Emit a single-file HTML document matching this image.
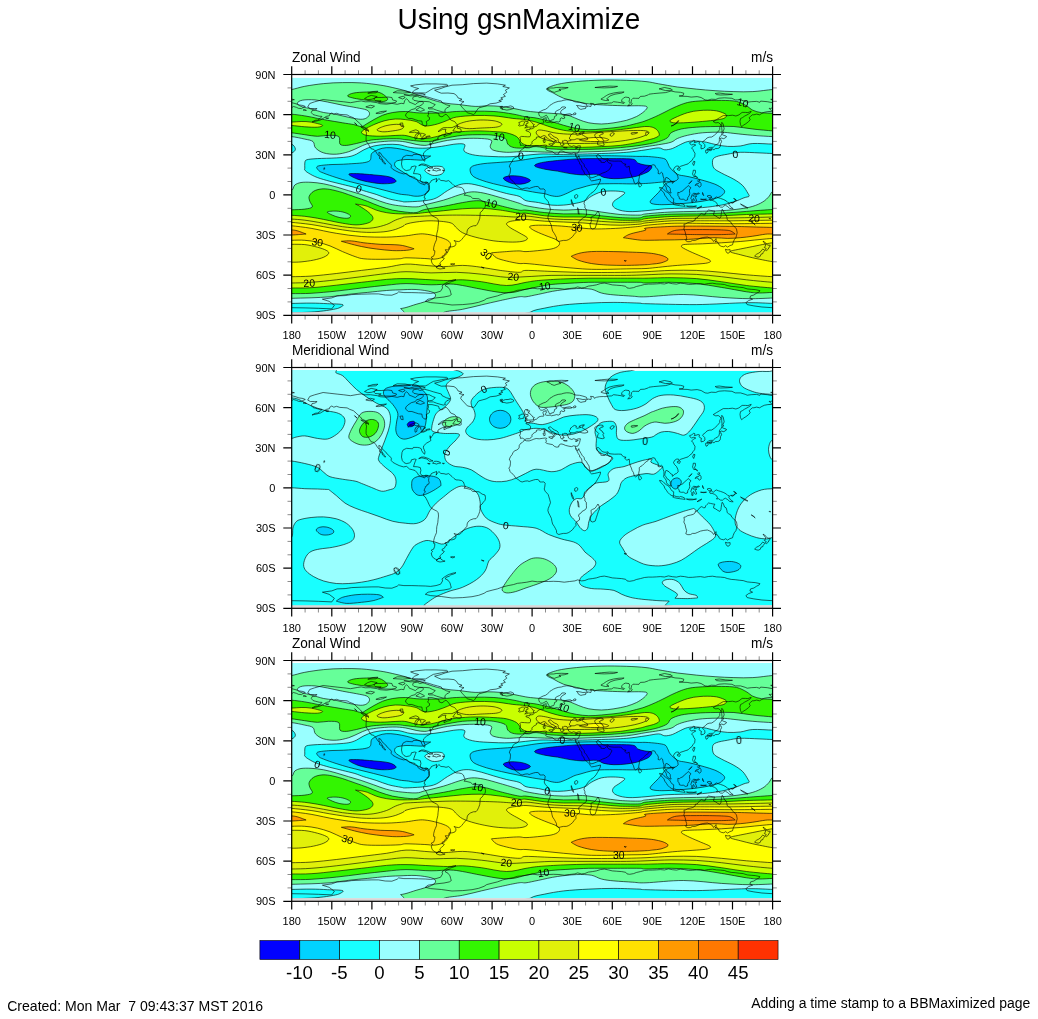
<!DOCTYPE html>
<html><head><meta charset="utf-8"><title>Using gsnMaximize</title>
<style>html,body{margin:0;padding:0;background:#fff}svg{display:block}text{font-family:"Liberation Sans",sans-serif;fill:#000}.t{font-size:11px;text-anchor:middle}.tl{font-size:11px;text-anchor:end}.s{font-size:13.6px}.cl{font-size:10.4px;text-anchor:middle}.cb{font-size:18.6px;text-anchor:middle}.c path{stroke:#000;stroke-width:.62}.k{fill:none;stroke:#000;stroke-width:.6;stroke-linejoin:round}</style></head><body>
<svg width="1038" height="1019" viewBox="0 0 1038 1019">
<rect width="1038" height="1019" fill="#fff"/><g opacity=".999">
<text style="font-size:28px;text-anchor:middle" transform="translate(518.9,28.7) scale(1,1.06)">Using gsnMaximize</text>
<defs>
<clipPath id="cp"><rect x="291.7" y="77.9" width="480.9" height="234.5"/></clipPath>
<g id="p1" class="c">
<rect x="291.7" y="77.9" width="480.9" height="234.7" fill="#99ffff"/>
<path fill="#66ff99" d="M283 89.5 C284.4 81.6 288 90 291.7 89.5 C295.3 88.9 299.5 87.3 304.8 86.3 C310.2 85.3 317.4 84.2 323.7 83.6 C330 82.9 336.3 82.7 342.5 82.6 C348.8 82.5 355.1 82.5 361.4 82.9 C367.7 83.4 375 84.3 380.2 85.1 C385.5 85.9 388.6 86.6 392.8 87.6 C397 88.5 401.1 89.5 405.3 90.7 C409.6 92 414.3 93.7 418.6 95.1 C422.9 96.6 426.9 98.2 431.1 99.5 C435.3 100.8 439.1 102.1 443.7 102.9 C448.3 103.8 453.5 104 458.8 104.5 C464 105.1 470.3 106.2 475.1 106.4 C479.9 106.6 483.5 105.8 487.7 105.8 C491.8 105.8 496 106 500.2 106.4 C504.4 106.9 508.6 107.6 512.8 108.3 C517 109 521.5 110.2 525.3 110.8 C529.2 111.5 531.8 111.7 536.1 112.1 C540.3 112.5 546.9 113 551.1 113.3 C555.3 113.7 558 113.6 561.2 114 C564.3 114.4 567 114.9 570 115.9 C572.9 116.8 575.6 118.5 578.8 119.6 C581.9 120.8 585 122 588.8 122.8 C592.6 123.5 597.2 124 601.4 124 C605.6 124 609.8 123.4 613.9 122.8 C618.1 122.1 622.7 121.3 626.5 120.3 C630.3 119.2 633.6 117.9 636.6 116.5 C639.5 115 642.3 113 644.1 111.5 C645.9 109.9 647.6 108 647.2 107.1 C646.8 106.1 645 106 641.6 105.8 C638.1 105.6 632.2 105.9 626.5 105.8 C620.8 105.7 613.9 105.5 607.7 105.2 C601.4 104.9 594 104.5 588.8 103.9 C583.6 103.3 580.4 102.3 576.3 101.4 C572.1 100.5 567.5 99.6 563.7 98.3 C559.9 96.9 556.5 94.8 553.6 93.2 C550.8 91.7 546.1 90.3 546.7 88.8 C547.4 87.4 552.5 85.7 557.4 84.4 C562.3 83.2 568.9 82.3 576.3 81.6 C583.6 80.8 593 80.3 601.4 80.1 C609.8 79.8 619.1 80.1 626.5 80.3 C633.9 80.6 640.6 81 646 81.6 C651.3 82.1 653.3 82.9 658.6 83.8 C663.8 84.7 671.1 86.1 677.4 87 C683.7 87.8 690 88.5 696.3 89.1 C702.5 89.7 708.8 90.3 715.1 90.7 C721.4 91.1 727.7 91.5 733.9 91.6 C740.2 91.8 746.3 92 752.8 91.6 C759.2 91.3 767.9 89.8 772.6 89.5 C777.3 89.1 779.6 81.6 781 89.5 C782.4 97.4 782.4 128.8 781 136.6 C779.6 144.4 777.3 136.8 772.6 136.6 C767.9 136.4 759.2 135.9 752.8 135.3 C746.3 134.8 739.2 134 733.9 133.4 C728.7 132.9 726.6 132.3 721.4 132.2 C716.1 132.1 708.2 132.3 702.5 132.8 C696.9 133.3 691.6 134.4 687.5 135.3 C683.3 136.3 680.1 137.3 677.4 138.5 C674.7 139.6 674.3 141.2 671.1 142.2 C668 143.3 662.8 144 658.6 144.7 C654.4 145.5 651.3 145.8 646 146.6 C640.6 147.5 633.9 149 626.5 149.8 C619.1 150.6 609.8 151 601.4 151.4 C593 151.8 584.6 152.1 576.3 152.3 C567.9 152.4 559.5 152.4 551.1 152.3 C542.8 152.1 531.3 151.5 526 151.4 C520.7 151.3 522.3 151.5 519.1 151.7 C515.8 151.8 510.7 152.5 506.5 152.3 C502.3 152.1 496.7 151.3 493.9 150.4 C491.2 149.5 490.6 148.3 490.2 146.6 C489.8 145 492.9 141.7 491.4 140.4 C490 139 485.8 138.8 481.4 138.5 C477 138.2 470.7 138.2 465 138.5 C459.4 138.8 453.1 139.4 447.5 140.4 C441.8 141.3 434.9 143.3 431.1 144.1 C427.4 145 427.4 145.3 424.8 145.4 C422.3 145.4 419.3 145 416.1 144.4 C412.8 143.8 409.2 142.4 405.3 141.9 C401.5 141.3 397.6 140.9 392.8 141 C388 141 380.8 141.7 376.5 142.2 C372.1 142.8 369.3 143.3 366.4 144.1 C363.5 145 361.8 146 358.9 147.3 C355.9 148.5 352.6 150.5 348.8 151.7 C345 152.8 340.4 154 336.3 154.2 C332.1 154.4 327.1 154 323.7 152.9 C320.2 151.9 317.3 149.8 315.5 147.9 C313.7 146 314.8 143.1 313 141.6 C311.2 140.1 308.4 139.9 304.8 139.1 C301.3 138.3 295.3 137 291.7 136.6 C288 136.2 284.4 144.4 283 136.6 C281.6 128.8 281.6 97.4 283 89.5 Z"/>
<path fill="#99ffff" d="M297.3 103.3 C297.5 102.2 299.4 100.7 302.3 100.2 C305.3 99.6 310.7 99.6 314.9 99.9 C319.1 100.2 322.9 101.2 327.5 102 C332.1 102.9 337.7 104.2 342.5 105.2 C347.3 106.1 352.4 106.9 356.4 107.7 C360.3 108.5 364.2 109 366.4 109.9 C368.6 110.9 369.3 112.1 369.5 113.3 C369.8 114.5 368.8 116.1 367.7 117.1 C366.5 118.1 364.9 119 362.6 119.2 C360.3 119.5 357.2 118.9 353.8 118.4 C350.5 117.8 345.9 116.6 342.5 115.9 C339.2 115.1 336.9 114.5 333.7 114 C330.6 113.4 326.4 113 323.7 112.5 C321 111.9 319.9 111.5 317.4 110.8 C314.9 110.1 311.3 109 308.6 108.3 C305.9 107.6 303 107.3 301.1 106.4 C299.2 105.6 297.1 104.3 297.3 103.3 Z"/>
<path fill="#33f500" d="M283 114 C284.4 111 288 113.9 291.7 114.2 C295.3 114.5 300.6 115.2 304.8 115.9 C309.1 116.5 313.6 117.6 317.4 118.4 C321.2 119.1 323.3 119.5 327.5 120.3 C331.6 121 338.1 122 342.5 122.8 C346.9 123.5 350.7 124 353.8 124.6 C357 125.3 359.3 126.6 361.4 126.5 C363.5 126.4 364.3 125.2 366.4 124 C368.5 122.9 371.2 121.1 373.9 119.6 C376.7 118.2 379.6 116.4 382.7 115.2 C385.9 114 389 113.1 392.8 112.5 C396.6 111.8 401.5 111.4 405.3 111.5 C409.2 111.5 411.8 112.4 416.1 112.7 C420.3 113 426.5 113.1 431.1 113.1 C435.7 113.1 439.5 113 443.7 112.7 C447.9 112.4 451 111.7 456.3 111.5 C461.5 111.2 468.8 111.2 475.1 111.2 C481.4 111.2 487.7 111 493.9 111.5 C500.2 111.9 507.5 113.1 512.8 114 C518 114.8 521.5 116.1 525.3 116.7 C529.2 117.4 531.8 117.2 536.1 118 C540.3 118.8 546.5 120.3 551.1 121.5 C555.7 122.7 559.5 124.1 563.7 125.3 C567.9 126.4 572.1 127.7 576.3 128.4 C580.4 129.1 584.6 129.6 588.8 129.7 C593 129.8 597.2 129.4 601.4 129 C605.6 128.7 609.8 128.3 613.9 127.8 C618.1 127.3 622.3 126.7 626.5 125.9 C630.7 125.1 635.8 123.6 639.1 122.8 C642.3 121.9 642.7 121.9 646 120.6 C649.2 119.4 654.4 117.2 658.6 115.2 C662.8 113.3 667.4 110.7 671.1 108.9 C674.9 107.2 678 105.7 681.2 104.5 C684.3 103.4 686.4 102.7 690 102 C693.5 101.4 697.3 101.1 702.5 100.8 C707.8 100.5 715.7 100.3 721.4 100.4 C727 100.5 732.3 100.5 736.5 101.4 C740.6 102.3 743.8 104.3 746.5 105.8 C749.2 107.3 750.3 109 752.8 110.2 C755.3 111.4 758.3 112.2 761.6 112.7 C764.9 113.2 769.4 113.1 772.6 113.3 C775.9 113.6 779.6 111 781 114 C782.4 117 782.4 128.7 781 131.5 C779.6 134.3 777.3 131.3 772.6 130.9 C767.9 130.5 759.2 129.8 752.8 129 C746.3 128.3 740.2 127 733.9 126.5 C727.7 126.1 721.4 126.4 715.1 126.5 C708.8 126.6 701.9 126.7 696.3 127.2 C690.6 127.6 685.4 128.1 681.2 129 C677 130 673.4 131.3 671.1 132.8 C668.8 134.3 669.5 136.4 667.4 137.8 C665.3 139.3 662.1 140.5 658.6 141.6 C655 142.7 651.3 143.5 646 144.4 C640.6 145.3 633.9 146.3 626.5 147 C619.1 147.8 609.8 148.5 601.4 148.9 C593 149.3 584.6 149.5 576.3 149.5 C567.9 149.5 557.8 149.4 551.1 148.9 C544.4 148.4 541 146.8 536.1 146.6 C531.1 146.5 525.5 148 521.6 148.1 C517.7 148.2 515.1 147.9 512.8 147.3 C510.5 146.6 509 145.6 507.8 144.1 C506.5 142.7 507.5 139.9 505.2 138.5 C502.9 137 497.9 136 493.9 135.3 C490 134.7 486.6 134.7 481.4 134.7 C476.1 134.7 468.8 134.7 462.5 135.3 C456.3 136 449.3 137.4 443.7 138.5 C438 139.5 434.9 141.4 428.6 141.6 C422.3 141.8 410.9 140.2 406 139.7 C401.1 139.3 402.3 139 399.1 138.8 C395.8 138.7 390.7 138.7 386.5 138.8 C382.3 139 377.3 139.4 373.9 139.7 C370.6 140.1 369.3 140.4 366.4 141 C363.5 141.6 359.7 142.8 356.4 143.5 C353 144.2 349 145.3 346.3 145.4 C343.6 145.5 341.3 145.6 340 144.1 C338.8 142.7 340.6 138 338.8 136.6 C336.9 135.1 332.3 135.4 328.7 135.3 C325.2 135.3 321.4 136.4 317.4 136.3 C313.4 136.2 309.1 135.3 304.8 134.7 C300.6 134.1 295.3 133.2 291.7 132.8 C288 132.4 284.4 135.6 283 132.5 C281.6 129.4 281.6 117 283 114 Z"/>
<path fill="#33f500" d="M347.6 95.8 C347.8 94.9 350.7 93.6 353.8 93 C357 92.4 362.2 92.1 366.4 92 C370.6 91.9 375.6 91.5 379 92.4 C382.3 93.2 385.1 95.7 386.5 97 C387.9 98.3 388 99.4 387.1 100.2 C386.3 100.9 384.1 101.6 381.5 101.7 C378.9 101.8 374.8 101.1 371.4 100.8 C368.1 100.4 364.5 100 361.4 99.5 C358.2 99 354.9 98.5 352.6 97.9 C350.3 97.3 347.3 96.6 347.6 95.8 Z"/>
<path fill="#c8ff00" d="M283 122 C284.4 121.4 288.6 122.2 291.7 122.1 C294.7 122.1 297.8 121.5 301.1 121.5 C304.3 121.5 307.6 121.5 311.1 122.1 C314.7 122.8 321.4 124.4 322.4 125.3 C323.5 126.1 320.3 126.9 317.4 127.2 C314.5 127.4 309.1 127.1 304.8 126.8 C300.6 126.5 295.3 125.7 291.7 125.5 C288 125.3 284.4 126.1 283 125.5 C281.6 124.9 281.6 122.6 283 122 Z"/>
<path fill="#c8ff00" d="M361.4 132.8 C361.4 132.8 361.8 131 363.9 129.7 C366 128.3 370.6 126.1 373.9 124.6 C377.3 123.2 380.4 121.8 384 120.9 C387.5 119.9 391.7 119.2 395.3 119 C398.9 118.8 401.9 119.2 405.3 119.6 C408.8 120 412.8 120.5 416.1 121.5 C419.3 122.6 421.3 125.5 424.8 125.9 C428.4 126.3 433.6 125 437.4 124 C441.2 123.1 444.3 121.4 447.5 120.3 C450.6 119.1 451.6 117.9 456.3 117.1 C460.9 116.3 468.8 115.7 475.1 115.5 C481.4 115.3 487.7 115.4 493.9 115.9 C500.2 116.3 507.5 117.7 512.8 118.4 C518 119 521.5 119 525.3 119.6 C529.2 120.3 531.8 120.9 536.1 122.1 C540.3 123.4 546.5 125.8 551.1 127.2 C555.7 128.5 559.5 129.6 563.7 130.3 C567.9 131 571 131.3 576.3 131.6 C581.5 131.8 588.8 131.8 595.1 131.6 C601.4 131.3 608.7 130.8 613.9 130.3 C619.2 129.8 622.3 129.3 626.5 128.8 C630.7 128.3 635.8 127.5 639.1 127.2 C642.3 126.8 643.8 126.5 646 126.5 C648.2 126.5 650.4 126.5 652.3 127.2 C654.2 127.8 656.2 128.9 657.3 130.3 C658.5 131.7 659.8 134 659.2 135.3 C658.6 136.7 655.7 137.6 653.5 138.5 C651.3 139.3 648.4 139.7 646 140.4 C643.6 141 643.4 141.4 639.1 142.2 C634.8 143.1 626.5 144.6 620.2 145.4 C613.9 146.1 607.7 146.3 601.4 146.6 C595.1 146.9 588.8 147.2 582.5 147.3 C576.3 147.3 570 147.1 563.7 146.9 C557.4 146.7 551.1 146.3 544.8 146 C538.6 145.8 529 145.5 526 145.4 C523 145.3 527.3 145.8 526.6 145.4 C525.9 145 523.3 144.3 521.6 142.9 C519.9 141.4 519.1 138.3 516.6 136.6 C514 134.9 510.3 133.7 506.5 132.8 C502.7 132 499.2 131.9 493.9 131.6 C488.7 131.2 481.4 130.8 475.1 130.9 C468.8 131 461.5 131.6 456.3 132.2 C451 132.8 447.9 133.8 443.7 134.7 C439.5 135.6 435.3 137.2 431.1 137.8 C426.9 138.5 422.8 138.8 418.6 138.5 C414.4 138.1 409.2 136.1 406 135.6 C402.8 135.1 403.4 135.2 399.1 135.3 C394.8 135.4 385.7 136.2 380.2 136.2 C374.8 136.2 369.5 135.9 366.4 135.3 C363.3 134.8 361.4 132.8 361.4 132.8 Z"/>
<path fill="#c8ff00" d="M669.9 120.9 C670.1 120 672 119.1 674.9 117.7 C677.8 116.4 683.3 113.9 687.5 112.7 C691.6 111.5 695.6 110.8 700 110.5 C704.4 110.1 710.1 110.1 713.8 110.5 C717.6 110.8 720.5 111.9 722.6 112.7 C724.7 113.5 726.2 114.3 726.4 115.2 C726.6 116.2 726 117.5 723.9 118.4 C721.8 119.2 718 119.7 713.8 120.3 C709.7 120.8 703.8 121.3 698.8 121.8 C693.7 122.2 687.9 122.6 683.7 122.8 C679.5 122.9 675.9 123.1 673.6 122.8 C671.3 122.4 669.7 121.7 669.9 120.9 Z"/>
<path fill="#e1f00a" d="M377.1 129.7 C377.5 128.7 382 126.8 385.2 125.9 C388.5 125 393.5 124.3 396.6 124.3 C399.6 124.3 402.6 125.1 403.5 125.9 C404.3 126.7 403.4 128.2 401.6 129 C399.8 129.9 395.9 130.5 392.8 130.9 C389.6 131.4 385.4 132 382.7 131.8 C380.1 131.6 376.7 130.7 377.1 129.7 Z"/>
<path fill="#e1f00a" d="M457.1 125.4 C457.1 124.3 462.5 122.5 466.3 121.6 C470.2 120.7 475.6 120.2 480.2 120 C484.8 119.9 490.5 120.2 494.1 120.8 C497.7 121.5 501.3 122.9 501.8 123.9 C502.3 124.9 500.7 126.3 497.1 127 C493.6 127.7 485.3 127.8 480.2 128.1 C475.1 128.3 470.2 129 466.3 128.5 C462.5 128.1 457.1 126.6 457.1 125.4 Z"/>
<path fill="#e1f00a" d="M536.2 133.1 C535.8 131.9 537 130.4 538.5 130.1 C540.1 129.7 542.5 130.3 545.5 130.8 C548.4 131.3 551.9 132.6 556.2 133.1 C560.6 133.7 566.5 134.2 571.7 134.2 C576.8 134.2 580.6 133.6 587.1 133.1 C593.5 132.7 602.5 132 610.2 131.6 C617.9 131.2 627.4 130.6 633.3 130.5 C639.2 130.4 643.1 130.4 645.6 130.8 C648.2 131.3 649.5 132.1 648.7 133.1 C648 134.2 644.9 135.8 641 137 C637.2 138.2 632 139.4 625.6 140.4 C619.2 141.4 610.2 142.3 602.5 142.9 C594.8 143.4 585.8 143.4 579.4 143.5 C572.9 143.5 568.6 143.5 563.9 143.2 C559.3 142.8 555.5 142.2 551.6 141.3 C547.8 140.4 543.4 139.1 540.8 137.8 C538.3 136.4 536.6 134.4 536.2 133.1 Z"/>
<path fill="#ffff00" d="M579.4 139.8 C579.9 139.2 586.3 138.1 590.2 137.8 C594 137.4 599.4 137.4 602.5 137.8 C605.6 138.1 608.7 139.2 608.7 139.8 C608.7 140.4 606.1 141.1 602.5 141.3 C598.9 141.6 590.9 141.6 587.1 141.3 C583.2 141.1 578.9 140.4 579.4 139.8 Z"/>
<path fill="#e1f00a" d="M646 132.2 C646.4 131.9 648.5 132.9 648.5 133.4 C648.5 134 646.4 135.5 646 135.3 C645.6 135.1 645.6 132.5 646 132.2 Z"/>
<path fill="#18ffff" d="M304.8 163 C305.2 161.6 304.6 160.6 306.7 159.8 C308.8 159.1 312.5 158.9 317.4 158.6 C322.3 158.3 331 158.3 336.3 157.9 C341.5 157.6 345.5 157.3 348.8 156.7 C352.2 156.1 353.8 155.3 356.4 154.2 C358.9 153 361 151.1 363.9 149.8 C366.8 148.4 370.2 146.9 373.9 146 C377.7 145.1 382.3 144.6 386.5 144.4 C390.7 144.2 395 144.2 399.1 144.7 C403.1 145.3 406.2 146.9 410.8 147.5 C415.3 148.1 421.1 148.4 426.2 148.1 C431.4 147.9 436.5 147 441.7 146.3 C446.8 145.5 453.3 144.1 457.1 143.9 C461 143.6 463.6 143.6 464.8 144.7 C465.9 145.9 462.8 149.3 464 150.9 C465.3 152.6 468.5 153.8 472.5 154.7 C476.4 155.6 481.5 156 487.9 156.3 C494.3 156.6 502.4 157.1 511 156.7 C519.7 156.3 531.2 154.4 539.9 154 C548.7 153.7 553.4 154.5 563.7 154.4 C573.9 154.3 590.9 153.9 601.4 153.5 C611.8 153.2 619.1 152.9 626.5 152.3 C633.9 151.7 640.6 150.5 646 149.8 C651.3 149 655.4 147.9 658.6 147.9 C661.7 147.9 662.5 149.7 664.8 149.8 C667.1 149.9 670.1 149.3 672.4 148.5 C674.7 147.8 676.2 146.5 678.7 145.4 C681.2 144.2 684.5 142.3 687.5 141.6 C690.4 140.9 693.1 140.9 696.3 141 C699.4 141.1 703 141.6 706.3 142.2 C709.7 142.9 712.8 144.1 716.4 144.7 C719.9 145.4 723.7 146.2 727.7 146.4 C731.6 146.6 736 146.5 740.2 146 C744.4 145.5 747.4 143.8 752.8 143.5 C758.2 143.2 767.9 144 772.6 144.1 C777.3 144.2 779.6 142.6 781 144.2 C782.4 145.8 782.4 151.9 781 153.5 C779.6 155.1 776.3 153.6 772.6 153.5 C769 153.4 764.5 153.1 759.1 152.9 C753.7 152.7 745.5 152.1 740.2 152.3 C735 152.5 731.6 153.4 727.7 154.2 C723.7 154.9 718.9 155.6 716.4 156.7 C713.8 157.7 713 158.6 712.6 160.5 C712.2 162.3 712.4 165.9 713.8 168 C715.3 170.1 718 171.1 721.4 173 C724.7 174.9 730.4 177.2 733.9 179.3 C737.5 181.4 740.4 183.3 742.7 185.6 C745 187.9 746.7 191.3 747.8 193.1 C748.8 194.9 749.6 195.5 749 196.3 C748.4 197.1 746.5 196.8 744 197.8 C741.5 198.7 737.7 200.7 733.9 201.9 C730.2 203.1 726.6 204.1 721.4 205.1 C716.1 206 708.8 207.1 702.5 207.6 C696.3 208.1 690 208 683.7 208.2 C677.4 208.4 671.1 208.4 664.8 208.8 C658.6 209.3 652 210.3 646 210.7 C640 211.2 633.7 211.8 629 211.6 C624.3 211.4 620.4 210.5 617.7 209.5 C615 208.5 613.3 207.1 612.7 205.7 C612.1 204.3 612.7 202.8 613.9 201.3 C615.2 199.8 618.4 198.4 620.2 196.9 C622 195.4 625.7 193.5 624.6 192.5 C623.6 191.5 617.8 191.1 613.9 191 C610.1 190.9 605.1 191 601.4 191.9 C597.6 192.8 594 194.8 591.3 196.3 C588.6 197.7 587.6 199.5 585 200.7 C582.5 201.8 579.8 202.5 576.3 203.2 C572.7 203.9 567.9 204.8 563.7 205.1 C559.5 205.4 555.3 205.5 551.1 205.1 C546.9 204.7 542.8 203.3 538.6 202.6 C534.4 201.8 529.2 201.7 526 200.7 C522.8 199.6 522.3 197.5 519.1 196.3 C515.8 195.1 510.7 194.6 506.5 193.5 C502.3 192.5 498.1 191.2 493.9 190 C489.8 188.8 485.6 187.3 481.4 186.2 C477.2 185.2 472.6 183.9 468.8 183.7 C465 183.5 462.3 183.8 458.8 184.9 C455.2 186.1 451.2 188.4 447.5 190.6 C443.7 192.8 439.9 196.4 436.2 198 C432.4 199.7 429.9 200 424.8 200.7 C419.8 201.3 409.9 201.8 406 201.9 C402.1 202 404.1 201.8 401.2 201.3 C398.3 200.8 392.9 200 388.7 198.8 C384.5 197.7 380.3 195.8 376.2 194.4 C372 193.1 367.2 191.8 363.6 190.7 C360.1 189.5 358.4 188.6 354.9 187.5 C351.3 186.5 346.5 185.4 342.4 184.4 C338.2 183.4 334 182.4 329.8 181.3 C325.7 180.1 320.9 178.9 317.3 177.5 C313.8 176.2 310.6 174.4 308.5 173.1 C306.5 171.9 305.4 170.9 304.8 170 C304.2 169.1 304.8 169.2 304.8 168 C304.9 166.8 304.5 164.3 304.8 163 Z"/>
<path fill="#18ffff" d="M283 144.1 C284.4 142.6 289.6 143.3 291.7 144.1 C293.7 145 295.4 147.7 295.4 149.1 C295.4 150.6 293.7 152.3 291.7 152.9 C289.6 153.6 284.4 154.5 283 153 C281.6 151.5 281.6 145.6 283 144.1 Z"/>
<path fill="#99ffff" d="M424.8 170.5 C424.6 169.1 428.4 167.4 431.1 166.7 C433.8 166.1 439 166 441.2 166.5 C443.4 167 444.3 168.6 444.3 169.9 C444.3 171.2 443.2 173.4 441.2 174.3 C439.2 175.2 435.1 175.9 432.4 175.3 C429.7 174.6 425.1 171.9 424.8 170.5 Z"/>
<path fill="#00d2ff" d="M317.3 166.4 C318.9 165.5 323.4 165.1 328.6 164.7 C333.8 164.3 341.9 164.5 348.6 163.9 C355.3 163.4 364.7 163.3 368.7 161.4 C372.6 159.6 369.5 155 372.4 152.7 C375.3 150.4 380.6 148.1 386.2 147.7 C391.8 147.2 400.4 148.9 406.2 150.2 C412.1 151.4 417.2 154.2 421.3 155.2 C425.4 156.2 430.7 156 430.7 156 C430.7 156 427.3 158 426 158.6 C424.6 159.3 424.4 159.9 422.5 160.1 C420.6 160.3 417.4 159.9 414.7 159.8 C411.9 159.7 408.9 159.3 406 159.5 C403.1 159.7 399.2 160.2 397.3 160.8 C395.5 161.5 395 162.4 394.7 163.4 C394.5 164.4 394.5 165.6 395.6 166.9 C396.8 168.2 399.5 169.8 401.7 171.2 C403.9 172.7 406.2 174.2 408.6 175.6 C411.1 176.9 414 178.4 416.4 179.5 C418.9 180.5 421.6 181.6 423.4 182.1 C425.2 182.6 426.3 181.8 427.3 182.5 C428.3 183.1 429.1 184.7 429.4 186 C429.7 187.2 429.6 188.6 429 189.9 C428.4 191.2 427.3 192.8 426 193.8 C424.6 194.8 422.6 195.5 420.8 195.9 C418.9 196.3 416.7 196.3 414.7 196.2 C412.7 196.1 411.3 195.5 408.6 195.1 C406 194.7 402.5 194.7 398.7 193.9 C395 193.2 390.4 191.7 386.2 190.7 C382 189.6 377.8 188.6 373.7 187.5 C369.5 186.5 365.3 185.4 361.1 184.4 C357 183.4 352.8 182.4 348.6 181.3 C344.4 180.1 340.3 178.9 336.1 177.5 C331.9 176.2 326.5 174.3 323.6 173.1 C320.7 172 319.9 171.7 318.8 170.6 C317.8 169.5 315.7 167.4 317.3 166.4 Z"/>
<path fill="#00d2ff" d="M470.1 170.5 C469.9 168.7 470.3 167.3 472.6 166.1 C474.9 165 479.3 164.2 483.9 163.6 C488.5 163 495 162.8 500.2 162.3 C505.5 161.9 509.3 161.8 515.3 161.1 C521.3 160.3 530.1 158.7 536.1 157.9 C542 157.2 544.4 157 551.1 156.7 C557.8 156.4 567.9 156.2 576.3 156.1 C584.6 155.9 593 155.7 601.4 155.7 C609.8 155.7 620.2 155.9 626.5 156.1 C632.8 156.2 635.8 156.4 639.1 156.4 C642.3 156.5 642.8 156.2 645.9 156.4 C649 156.5 654.4 157 657.6 157.4 C660.7 157.9 663.3 158.1 665 159 C666.7 159.9 666.7 161.2 667.6 162.7 C668.5 164.2 668.6 166.1 670.3 168 C671.9 170 675.2 173.1 677.7 174.4 C680.2 175.7 682.5 175.4 685.1 176 C687.8 176.5 690.4 177 693.6 177.8 C696.8 178.6 700.7 179.7 704.2 180.7 C707.7 181.8 711.7 182.8 714.8 184.1 C717.9 185.4 721.1 187.3 722.7 188.7 C724.4 190.1 725 191.1 724.5 192.4 C724.1 193.7 722.1 195.5 720.1 196.6 C718.1 197.8 715.3 198.6 712.7 199.3 C710 200 707.4 200.3 704.2 200.9 C701 201.4 697.1 202 693.6 202.5 C690.1 202.9 686.5 203.2 683 203.5 C679.5 203.8 675.9 204.1 672.4 204.3 C668.9 204.5 665 204.7 661.8 204.7 C658.6 204.6 655.3 204.5 653.3 204 C651.4 203.6 650.1 203 650.1 201.9 C650.1 200.9 651.9 199.3 653.3 197.7 C654.7 196.1 657 194.2 658.6 192.4 C660.2 190.6 661.5 188.6 662.9 187.1 C664.2 185.5 664.6 184 666.6 183.1 C668.5 182.1 674.5 181.3 674.5 181.3 C674.5 181.3 668.9 181.5 665 181.8 C661.1 182.1 655.3 182.7 651.2 183.1 C647.1 183.4 644.1 183.6 640.6 183.7 C637.1 183.8 634.4 183.9 630 183.9 C625.6 183.9 619.8 183.6 613.9 183.7 C608.1 183.8 600.7 183.6 595.1 184.3 C589.4 185.1 583.6 187.1 580 188.1 C576.5 189 575.8 189.1 573.7 190 C571.6 190.8 570 192.1 567.5 193.1 C564.9 194.2 561.4 195.9 558.7 196.3 C555.9 196.7 553.4 196.1 551.1 195.7 C548.8 195.2 547.4 194.3 544.8 193.8 C542.3 193.2 540.3 193.2 536.1 192.5 C531.8 191.8 524.8 190.5 519.1 189.3 C513.3 188.2 506.9 186.8 501.5 185.6 C496 184.3 491 183.3 486.4 181.8 C481.8 180.3 476.6 178.7 473.8 176.8 C471.1 174.9 470.3 172.3 470.1 170.5 Z"/>
<path fill="#0000ff" d="M348.8 174.3 C348.8 173.4 352.2 173.5 356.4 173.6 C360.5 173.7 368.5 174.4 373.9 174.9 C379.4 175.4 385.4 175.8 389 176.8 C392.7 177.7 395.3 179.5 395.9 180.6 C396.6 181.6 395.2 182.5 392.8 183.1 C390.4 183.6 385.7 183.9 381.5 183.7 C377.3 183.5 371.8 182.6 367.7 181.8 C363.5 181 359.5 179.9 356.4 178.7 C353.2 177.4 348.8 175.1 348.8 174.3 Z"/>
<path fill="#0000ff" d="M503.4 178 C503.8 177 507.7 176.1 510.3 175.8 C512.9 175.5 516.3 175.8 519.1 176.2 C521.8 176.5 524.7 177.3 526.6 178 C528.5 178.8 530.8 179.9 530.4 180.8 C530 181.7 526.6 183.1 524.1 183.7 C521.6 184.2 518 184.4 515.3 184.1 C512.6 183.8 509.7 182.8 507.8 181.8 C505.8 180.8 502.9 179 503.4 178 Z"/>
<path fill="#0000ff" d="M534.8 166.1 C534 165.1 536.1 163.9 539.8 163 C543.6 162 551.3 161.1 557.4 160.5 C563.5 159.8 570 159.3 576.3 158.9 C582.5 158.6 588.8 158.6 595.1 158.6 C601.4 158.5 607.7 158.5 613.9 158.6 C620.2 158.7 628.8 158.5 632.8 159.2 C636.8 159.9 635.9 162 637.8 163 C639.7 163.9 641.8 164.3 644.1 164.8 C646.4 165.4 650.7 165.2 651.6 166.1 C652.6 167 651 169.2 649.7 170.5 C648.5 171.8 646.3 172.7 644.1 173.6 C641.9 174.6 639.5 175.4 636.6 176.2 C633.6 176.9 630.3 177.6 626.5 178 C622.7 178.5 617.7 178.8 613.9 178.7 C610.2 178.6 606.8 178.1 603.9 177.4 C601 176.7 599.9 174.7 596.4 174.3 C592.8 173.9 586.9 175 582.5 174.9 C578.1 174.8 574.2 174.3 570 173.6 C565.8 173 561.6 171.9 557.4 171.1 C553.2 170.4 548.6 170.1 544.8 169.2 C541.1 168.4 535.6 167.2 534.8 166.1 Z"/>
<path fill="#66ff99" d="M283 185.6 C284.4 167.6 289.7 190.1 291.6 190 C293.6 189.9 293.2 186.3 294.8 185 C296.3 183.8 298.3 183 301 182.5 C303.7 182.1 307.3 182.1 311 182.3 C314.8 182.5 319.4 183 323.6 183.8 C327.7 184.5 331.9 185.8 336.1 186.9 C340.3 188.1 344.4 189.4 348.6 190.7 C352.8 191.9 357 193.1 361.1 194.4 C365.3 195.8 369.5 197.3 373.7 198.8 C377.8 200.3 382 202 386.2 203.2 C390.4 204.3 393.7 205.1 398.7 205.7 C403.7 206.3 411.6 207.1 416 206.9 C420.3 206.8 420.2 206 424.8 204.8 C429.5 203.7 438 201.7 443.7 200.1 C449.3 198.4 454.2 196.4 458.8 195 C463.4 193.7 467.1 192.2 471.3 191.9 C475.5 191.6 479.1 192.2 483.9 193.1 C488.7 194.1 494.4 195.9 500.2 197.5 C506.1 199.2 514.8 201.8 519.1 203.2 C523.4 204.6 521.7 204.8 526 205.7 C530.3 206.6 538.6 208.1 544.8 208.8 C551.1 209.6 557.4 210 563.7 210.1 C570 210.2 576.3 209.2 582.5 209.5 C588.8 209.8 595.1 211.1 601.4 212 C607.7 212.8 613.9 214 620.2 214.5 C626.5 215 634.8 215.2 639.1 215.1 C643.4 215 640.7 214.4 646 213.9 C651.3 213.3 662.8 212.4 671.1 212 C679.5 211.6 687.9 211.6 696.3 211.4 C704.6 211.1 714 211.1 721.4 210.7 C728.7 210.3 735 209.6 740.2 208.8 C745.5 208.1 749 207.5 752.8 206.3 C756.6 205.2 760.1 203.6 762.8 201.9 C765.6 200.3 767.5 198.1 769.1 196.3 C770.7 194.5 770.7 192.6 772.6 191.3 C774.6 189.9 779.6 170.2 781 188 C782.4 205.8 782.4 279.7 781 298 C779.6 316.3 778 297.9 772.6 298 C767.3 298.2 757.6 298.8 749 298.7 C740.5 298.6 732.3 298.1 721.4 297.4 C710.5 296.7 696.3 294.6 683.7 294.5 C671.1 294.4 654.5 296.5 646 296.8 C637.5 297.1 638.1 296.5 632.8 296.2 C627.4 295.8 619.2 295.4 613.9 294.9 C608.7 294.4 605.1 294 601.4 293 C597.6 292.1 595.5 290 591.3 289.2 C587.1 288.5 581.9 288.4 576.3 288.6 C570.6 288.8 563.7 289.6 557.4 290.5 C551.1 291.4 543.8 293.2 538.6 294.3 C533.3 295.3 529.2 296.4 526 296.8 C522.8 297.2 523.4 296.2 519.1 296.8 C514.8 297.4 506.5 299.2 500.2 300.6 C493.9 301.9 487.7 303.5 481.4 304.9 C475.1 306.4 468.8 308.1 462.5 309.3 C456.3 310.6 447.4 310.7 443.7 312.5 C439.9 314.3 445.9 318.7 440 320 C434.1 321.3 413.7 321 408 320 C402.3 319 406.8 315.6 405.6 313.7 C404.4 311.8 400.6 308.6 400.6 308.6 C400.6 308.6 403.4 308.2 406 307.5 C408.6 306.8 412.9 305.3 416.1 304.3 C419.2 303.4 422 302.8 424.8 301.8 C427.7 300.9 431.2 299.8 433 298.7 C434.8 297.5 435.8 296.1 435.5 294.9 C435.2 293.7 434.4 292.7 431.1 291.8 C427.9 290.9 421.4 289.8 416.1 289.5 C410.7 289.2 404 289.7 399.1 289.9 C394.1 290 391.7 290.1 386.5 290.5 C381.3 290.9 373.9 291.8 367.7 292.4 C361.4 293 355.1 293.5 348.8 294.3 C342.5 295 336.3 296.2 330 296.8 C323.7 297.4 317.5 297.5 311.1 297.8 C304.7 298 296.3 298.2 291.7 298.3 C287 298.4 284.4 317.1 283 298.3 C281.6 279.5 281.6 203.6 283 185.6 Z"/>
<path fill="#18ffff" d="M528 320 C486.3 318.6 528.2 313.8 531 311.9 C533.8 309.9 539.4 309.2 544.8 308.1 C550.3 306.9 556.4 305.8 563.7 304.9 C571 304.1 580.4 303.5 588.8 303.1 C597.2 302.6 605.6 302.4 613.9 302.4 C622.3 302.4 633.7 302.9 639.1 303.1 C644.4 303.3 636.5 303.4 646 303.7 C655.5 303.9 679.5 304.7 696.3 304.6 C713 304.4 733.8 302.9 746.5 302.7 C759.2 302.5 766.9 303.3 772.6 303.4 C778.4 303.6 779.6 300.7 781 303.5 C782.4 306.3 823.2 317.2 781 320 C738.8 322.8 569.7 321.4 528 320 Z"/>
<path fill="#18ffff" d="M283 303.5 C284.4 301.9 287 303.5 291.7 303.4 C296.3 303.4 305.2 303 311.1 303.1 C317.1 303.1 322.2 303.4 327.5 303.7 C332.7 303.9 340.4 303.9 342.5 304.6 C344.6 305.2 341.5 306.7 340 307.5 C338.6 308.3 336.5 308.8 333.7 309.3 C331 309.9 327.5 310.4 323.7 310.9 C319.9 311.3 316.5 311.8 311.1 312.1 C305.8 312.4 296.3 312.7 291.7 312.9 C287 313 284.4 314.6 283 313 C281.6 311.4 281.6 305.1 283 303.5 Z"/>
<path fill="#33f500" d="M283 209.8 C284.4 195.8 288 209.9 291.6 209.8 C295.3 209.7 301.3 209.6 304.8 209.1 C308.2 208.6 311.5 208.2 312.3 206.9 C313.1 205.7 310.3 203.1 309.8 201.3 C309.3 199.5 308.5 198 309.2 196.3 C309.8 194.6 311.6 192.5 313.6 191.3 C315.5 190.1 318.4 189.3 321.1 189 C323.8 188.7 326.3 188.8 329.8 189.4 C333.4 190 338.2 191.3 342.4 192.5 C346.5 193.8 350.7 195.5 354.9 196.9 C359.1 198.4 363.2 199.7 367.4 201.3 C371.6 202.9 375.8 204.9 379.9 206.3 C384.1 207.8 388.3 209.1 392.4 210.1 C396.6 211 401 211.5 405 212 C408.9 212.4 412.7 213 416 212.6 C419.3 212.2 420.2 210.5 424.8 209.5 C429.5 208.4 437.4 207.5 443.7 206.3 C450 205.2 457.1 203.5 462.5 202.6 C468 201.6 472.4 200.8 476.4 200.7 C480.3 200.6 482.4 201.1 486.4 201.9 C490.4 202.8 494.8 204.3 500.2 205.7 C505.7 207.1 514.8 209.4 519.1 210.1 C523.4 210.8 521.7 209.7 526 210.1 C530.3 210.5 538.6 212 544.8 212.6 C551.1 213.2 557.4 213.7 563.7 213.9 C570 214.1 576.3 213.6 582.5 213.9 C588.8 214.2 595.1 215.1 601.4 215.8 C607.7 216.4 613.9 217.3 620.2 217.6 C626.5 218 634.8 218.1 639.1 217.9 C643.4 217.6 640.7 216.7 646 216.1 C651.3 215.5 662.8 214.6 671.1 214.2 C679.5 213.9 687.9 214 696.3 213.9 C704.6 213.7 713 213.7 721.4 213.2 C729.8 212.8 738 212 746.5 211.4 C755 210.7 766.9 209.8 772.6 209.5 C778.4 209.2 779.6 195.7 781 209.5 C782.4 223.3 782.4 278.6 781 292.4 C779.6 306.2 776.3 292.3 772.6 292.4 C769 292.5 763.4 293.1 759.1 293 C754.7 292.9 752.8 292.7 746.5 291.8 C740.2 290.8 729.8 288.7 721.4 287.4 C713 286 704.6 284.4 696.3 283.6 C687.9 282.8 679.5 282.4 671.1 282.3 C662.8 282.2 651.3 283 646 283 C640.7 283 644.4 282.4 639.1 282.3 C633.7 282.2 622.3 282.3 613.9 282.3 C605.6 282.3 596.1 282.2 588.8 282.3 C581.5 282.5 576.3 282.9 570 283.2 C563.7 283.6 556.4 283.9 551.1 284.5 C545.9 285.1 542.8 285.9 538.6 286.7 C534.4 287.5 530.3 288.3 526 289.2 C521.7 290.2 517.1 291.9 512.8 292.4 C508.5 292.9 505.5 292.9 500.2 292.4 C495 291.9 487.7 290.4 481.4 289.2 C475.1 288.1 467.8 286.4 462.5 285.5 C457.3 284.6 455.2 284.1 450 284 C444.7 283.9 438.5 284.9 431.1 284.8 C423.8 284.8 413.4 283.5 406 283.6 C398.6 283.7 393.9 284.5 386.5 285.2 C379.1 286 369.8 287 361.4 288 C353 289 344.6 290.3 336.3 291.1 C327.9 292 318.6 292.8 311.1 293.3 C303.7 293.7 296.3 293.6 291.7 293.6 C287 293.7 284.4 307.6 283 293.6 C281.6 279.6 281.6 223.8 283 209.8 Z"/>
<path fill="#66ff99" d="M327.3 212 C328 211.3 333.2 211 336.1 211.1 C339 211.2 342.5 211.8 344.9 212.6 C347.3 213.4 350 214.8 350.5 215.7 C351 216.6 349.8 217.9 348 218.2 C346.2 218.5 342.5 218.1 339.9 217.6 C337.2 217.1 334.4 216 332.3 215.1 C330.2 214.1 326.7 212.6 327.3 212 Z"/>
<path fill="#c8ff00" d="M283 215.3 C284.4 203.2 288 215.2 291.6 215.3 C295.3 215.5 300.5 215.9 304.8 216.3 C309.1 216.8 313.1 217.5 317.3 218.2 C321.5 218.9 325.7 219.9 329.8 220.7 C334 221.6 338 222.5 342.4 223.2 C346.7 223.9 352 224.9 356.1 224.9 C360.3 224.9 364.7 224 367.4 223.2 C370.1 222.4 371.6 221.2 372.4 220.1 C373.2 218.9 373.2 217.8 372.4 216.3 C371.6 214.9 369.5 213 367.4 211.3 C365.3 209.7 361.9 207.5 359.9 206.3 C357.9 205.1 355.5 204.1 355.5 204.1 C355.5 204.1 359.2 204.4 361.1 204.8 C363.1 205.2 364.9 205.4 367.4 206.3 C369.9 207.2 373 209 376.2 210.1 C379.3 211.1 382.4 212 386.2 212.6 C389.9 213.2 393.7 213.7 398.7 213.8 C403.7 214 411.6 213.8 416 213.6 C420.3 213.4 420.2 213.1 424.8 212.6 C429.5 212.1 437.4 211.4 443.7 210.7 C450 210.1 456.3 209.3 462.5 208.8 C468.8 208.4 475.1 208 481.4 208.2 C487.7 208.4 493.9 209.3 500.2 210.1 C506.5 210.9 514.8 212.7 519.1 213.2 C523.4 213.8 521.7 212.8 526 213.2 C530.3 213.7 538.6 215.1 544.8 215.8 C551.1 216.4 557.4 216.8 563.7 217 C570 217.2 576.3 216.7 582.5 217 C588.8 217.3 595.1 218.1 601.4 218.6 C607.7 219.2 613.9 219.9 620.2 220.2 C626.5 220.4 634.8 220.4 639.1 220.2 C643.4 219.9 640.7 219.3 646 218.6 C651.3 218 662.8 216.9 671.1 216.5 C679.5 216.1 687.9 216.1 696.3 216 C704.6 215.9 713 216 721.4 215.8 C729.8 215.5 738 214.8 746.5 214.5 C755 214.2 766.9 214 772.6 213.9 C778.4 213.8 779.6 201.4 781 213.8 C782.4 226.2 782.4 275.6 781 288 C779.6 300.4 778.4 288.4 772.6 288 C766.9 287.6 755 286.5 746.5 285.5 C738 284.4 729.8 282.9 721.4 281.7 C713 280.6 704.6 279.2 696.3 278.6 C687.9 277.9 679.5 277.8 671.1 277.7 C662.8 277.6 651.3 278.1 646 278.2 C640.7 278.3 644.4 278.2 639.1 278.2 C633.7 278.2 622.3 278.2 613.9 278.2 C605.6 278.2 597.2 278.1 588.8 278.2 C580.4 278.3 572.1 278.6 563.7 278.9 C555.3 279.3 544.8 279.9 538.6 280.5 C532.3 281 531.3 281.5 526 282.3 C520.7 283.2 513.9 285.6 506.5 285.5 C499.1 285.4 488.7 282.7 481.4 281.7 C474 280.8 468.2 280 462.5 279.8 C456.9 279.6 452.7 280.5 447.5 280.5 C442.2 280.5 438 280.1 431.1 279.8 C424.2 279.5 413.4 278.6 406 278.6 C398.6 278.5 393.9 278.8 386.5 279.4 C379.1 280.1 369.8 281.4 361.4 282.3 C353 283.3 344.6 284.3 336.3 285.2 C327.9 286.1 318.6 287.3 311.1 287.7 C303.7 288.2 296.3 287.9 291.7 288 C287 288 284.4 300.1 283 288 C281.6 275.9 281.6 227.4 283 215.3 Z"/>
<path fill="#e1f00a" d="M283 219.2 C284.4 208.6 288 219 291.7 219.1 C295.3 219.3 299.5 219.5 304.8 220.2 C310.2 220.8 317.4 222.2 323.7 223.3 C330 224.4 336.3 225.8 342.5 226.7 C348.8 227.5 356.1 228.1 361.4 228.3 C366.6 228.5 369.8 228.3 373.9 227.7 C378.1 227.1 382.9 225.8 386.5 224.5 C390.1 223.3 392.6 221.3 395.3 220.2 C398 219 401.1 218.2 402.8 217.6 C404.6 217.1 401.3 217.3 406 217 C410.7 216.7 422.8 216.1 431.1 215.8 C439.5 215.4 445.8 215.1 456.3 215.1 C466.7 215.1 484.1 215.4 493.9 215.8 C503.8 216.1 510 217 515.3 217 C520.6 217.1 521.1 215.8 526 216 C530.9 216.2 538.6 217.7 544.8 218.3 C551.1 218.9 557.4 219.3 563.7 219.5 C570 219.8 576.3 219.5 582.5 219.8 C588.8 220.1 595.1 221 601.4 221.4 C607.7 221.8 613.9 222.3 620.2 222.4 C626.5 222.5 634.8 222.2 639.1 221.9 C643.4 221.7 640.7 221.4 646 220.9 C651.3 220.4 662.8 219.1 671.1 218.6 C679.5 218.2 685.8 218.4 696.3 218.3 C706.7 218.1 721.2 218.1 733.9 217.9 C746.7 217.7 764.8 217.2 772.6 217 C780.5 216.9 779.6 206.1 781 217 C782.4 227.9 782.4 271.6 781 282.5 C779.6 293.4 778.4 282.8 772.6 282.3 C766.9 281.9 755 280.8 746.5 279.8 C738 278.9 729.8 277.6 721.4 276.7 C713 275.8 704.6 274.9 696.3 274.4 C687.9 274 679.5 273.9 671.1 273.9 C662.8 274 653.4 274.5 646 274.8 C638.6 275.1 633.9 275.3 626.5 275.4 C619.1 275.5 609.8 275.4 601.4 275.4 C593 275.4 584.6 275.4 576.3 275.4 C567.9 275.4 559.5 275.2 551.1 275.4 C542.8 275.6 533.4 276.4 526 276.7 C518.6 277 513.9 277.7 506.5 277.3 C499.1 276.9 489.8 275 481.4 274.2 C473 273.3 464.6 272.5 456.3 272.3 C447.9 272.1 439.5 273 431.1 272.9 C422.8 272.8 413.4 271.6 406 271.7 C398.6 271.8 393.9 272.7 386.5 273.5 C379.1 274.4 369.8 275.6 361.4 276.7 C353 277.7 344.6 278.9 336.3 279.8 C327.9 280.8 318.6 281.8 311.1 282.3 C303.7 282.9 296.3 282.9 291.7 283 C287 283.1 284.4 293.6 283 283 C281.6 272.4 281.6 229.8 283 219.2 Z"/>
<path fill="#ffff00" d="M283 222.4 C284.4 213.4 287 222.1 291.7 222.4 C296.3 222.8 303.7 223.5 311.1 224.5 C318.6 225.6 327.9 227.7 336.3 228.9 C344.6 230.2 354 231.6 361.4 232.1 C368.7 232.6 375 232.4 380.2 232.1 C385.5 231.8 389 231.1 392.8 230.2 C396.6 229.3 400.6 227.4 402.8 226.4 C405 225.4 403.8 224.9 406 224.2 C408.2 223.4 411.9 222.6 416.1 222 C420.2 221.5 425.5 220.7 431.1 220.8 C436.8 220.9 445.8 221.5 450 222.7 C454.2 223.8 454.2 226 456.3 227.7 C458.3 229.4 459.4 231.1 462.5 232.7 C465.7 234.3 469.9 235.7 475.1 237.1 C480.3 238.5 487.7 240 493.9 240.9 C500.2 241.7 507.8 242.1 512.8 242.1 C517.8 242.1 521.7 241.6 524.1 240.9 C526.5 240.1 528.1 239.1 527.2 237.7 C526.4 236.4 521.9 234.4 519.1 232.7 C516.2 231 512.4 229.2 510.3 227.7 C508.2 226.2 506.5 225 506.5 223.9 C506.5 222.9 508.2 222 510.3 221.4 C512.4 220.8 516.4 220.5 519.1 220.2 C521.7 219.8 521.7 219.4 526 219.5 C530.3 219.7 538.6 220.7 544.8 221.2 C551.1 221.6 557.4 221.7 563.7 222 C570 222.3 576.3 222.5 582.5 222.9 C588.8 223.3 595.1 224.2 601.4 224.5 C607.7 224.9 613.9 225.2 620.2 225.2 C626.5 225.1 634.8 224.5 639.1 224.2 C643.4 223.8 640.7 223.5 646 222.9 C651.3 222.4 662.8 221.3 671.1 220.9 C679.5 220.5 685.8 220.8 696.3 220.8 C706.7 220.8 721.2 220.9 733.9 220.8 C746.7 220.7 764.8 220.2 772.6 220.2 C780.5 220.1 779.6 210.8 781 220.2 C782.4 229.6 782.4 267.3 781 276.7 C779.6 286.1 778.4 277 772.6 276.7 C766.9 276.4 755 275.5 746.5 274.8 C738 274.1 729.8 273 721.4 272.3 C713 271.6 704.6 270.7 696.3 270.4 C687.9 270.1 679.5 270.2 671.1 270.4 C662.8 270.6 653.4 271.3 646 271.7 C638.6 272 633.9 272.1 626.5 272.3 C619.1 272.4 609.8 272.5 601.4 272.5 C593 272.5 584.6 272.5 576.3 272.3 C567.9 272.1 559.5 271.7 551.1 271.4 C542.8 271.1 531.3 270.3 526 270.4 C520.7 270.5 523.4 272.3 519.1 272.3 C514.8 272.3 506.5 271.2 500.2 270.4 C493.9 269.6 487.7 268.1 481.4 267.3 C475.1 266.4 468.8 265.5 462.5 265.4 C456.3 265.3 450 266.6 443.7 266.6 C437.4 266.6 431.1 265.8 424.8 265.4 C418.6 265 412.4 263.8 406 264.1 C399.6 264.4 393.9 266.2 386.5 267.3 C379.1 268.3 369.8 269.4 361.4 270.4 C353 271.4 344.6 272.6 336.3 273.5 C327.9 274.5 318.6 275.5 311.1 276.1 C303.7 276.6 296.3 276.6 291.7 276.7 C287 276.8 284.4 285.7 283 276.7 C281.6 267.7 281.6 231.4 283 222.4 Z"/>
<path fill="#e1f00a" d="M283 244.3 C284.4 241.3 288 244.2 291.7 244.3 C295.3 244.3 300.6 244.2 304.8 244.6 C309.1 245.1 313.8 246.2 317.4 247.2 C321 248.1 324.3 249.3 326.2 250.3 C328.1 251.3 329.1 252.3 328.7 253.4 C328.3 254.6 326.2 256.1 323.7 257.2 C321.2 258.3 317.4 259.3 313.6 260.1 C309.9 260.9 304.7 261.5 301.1 261.9 C297.4 262.2 294.7 262.2 291.7 262.2 C288.6 262.3 284.4 265.2 283 262.2 C281.6 259.2 281.6 247.3 283 244.3 Z"/>
<path fill="#e1f00a" d="M730.2 251.6 C730.2 250.6 736.5 249.9 740.2 249 C744 248.2 748.6 247.4 752.8 246.5 C757 245.7 762 244.6 765.3 244 C768.7 243.4 770 243 772.6 242.8 C775.2 242.5 779.6 239.4 781 242.5 C782.4 245.6 782.4 258.3 781 261.5 C779.6 264.7 775.2 261.8 772.6 261.6 C770 261.4 768.7 261 765.3 260.4 C762 259.7 757 258.8 752.8 257.8 C748.6 256.9 744 255.7 740.2 254.7 C736.5 253.7 730.2 252.5 730.2 251.6 Z"/>
<path fill="#ffe100" d="M283 225.8 C284.4 223.4 287 225.4 291.7 225.8 C296.3 226.2 303.7 227.1 311.1 228.3 C318.6 229.6 327.9 232 336.3 233.3 C344.6 234.7 353 235.9 361.4 236.5 C369.8 237.1 379.2 237.2 386.5 237.1 C393.8 237 400.4 236.3 405.3 235.9 C410.3 235.4 412.8 234.7 416.1 234.3 C419.3 234 421.3 233.6 424.8 234 C428.4 234.3 433.6 235.4 437.4 236.5 C441.2 237.5 445.3 238.9 447.5 240.3 C449.7 241.6 450.4 243 450.6 244.6 C450.8 246.3 449.9 248.3 448.7 250.3 C447.6 252.3 446 255.1 443.7 256.6 C441.4 258 438 258.8 434.9 259.1 C431.8 259.4 429.7 258.7 424.8 258.5 C420 258.3 410.3 257.8 406 257.8 C401.7 257.9 403.4 258.6 399.1 258.8 C394.8 259.1 386.1 259.3 380.2 259.3 C374.4 259.3 368.1 259.3 363.9 258.8 C359.7 258.4 358.7 257.8 355.1 256.6 C351.5 255.4 346.7 253.3 342.5 251.6 C338.3 249.8 334.2 247.5 330 245.9 C325.8 244.3 321.6 243.1 317.4 242.1 C313.2 241.2 309.1 240.6 304.8 240.3 C300.6 239.9 295.3 240.2 291.7 240.3 C288 240.3 284.4 242.7 283 240.3 C281.6 237.9 281.6 228.2 283 225.8 Z"/>
<path fill="#ffe100" d="M491.4 252.8 C491.4 252.8 501.9 251.9 506.5 251.6 C511.1 251.2 515.8 250.9 519.1 250.9 C522.3 250.9 522.3 251.7 526 251.6 C529.7 251.5 536.5 250.8 541.1 250.3 C545.7 249.8 550.6 249.4 553.6 248.4 C556.7 247.5 558.7 246 559.3 244.6 C559.9 243.3 559.8 241.8 557.4 240.3 C555 238.7 548.8 236.9 544.8 235.2 C540.9 233.6 536.1 231.7 533.5 230.2 C531 228.7 528.9 227.3 529.8 226.4 C530.6 225.6 534 225.3 538.6 225.2 C543.2 225.1 551.8 225.5 557.4 225.8 C563.1 226.1 567.2 226.6 572.5 227.1 C577.7 227.5 584 228.4 588.8 228.7 C593.6 229 596.1 229 601.4 228.9 C606.6 228.8 613.9 228.5 620.2 228.1 C626.5 227.6 634.8 226.9 639.1 226.4 C643.4 226 640.7 225.8 646 225.3 C651.3 224.8 662.8 223.6 671.1 223.3 C679.5 223 685.8 223.2 696.3 223.3 C706.7 223.4 721.2 223.7 733.9 223.7 C746.7 223.7 764.8 223.4 772.6 223.3 C780.5 223.2 779.6 220.8 781 223.3 C782.4 225.8 782.4 235.9 781 238.4 C779.6 240.9 776.3 238.2 772.6 238.4 C769 238.6 764.5 239.1 759.1 239.6 C753.7 240.1 746.5 241 740.2 241.5 C733.9 242 727.7 242.4 721.4 242.8 C715.1 243.1 708.8 243.5 702.5 243.8 C696.3 244.1 687.1 244.1 683.7 244.6 C680.2 245.2 681.8 247.2 681.8 247.2 C681.8 247.2 684.6 248.9 687.5 250.3 C690.3 251.7 695 253.7 698.8 255.3 C702.5 257 708.6 259.1 710.1 260.4 C711.5 261.6 709.9 262.2 707.6 262.9 C705.3 263.5 701.3 263.7 696.3 264.1 C691.2 264.5 683.7 264.9 677.4 265.4 C671.1 265.9 663.8 266.7 658.6 267.3 C653.3 267.8 651.3 268.2 646 268.5 C640.7 268.8 633.9 268.7 626.5 268.9 C619.1 269 608.7 269.4 601.4 269.4 C594 269.4 588.8 269.3 582.5 268.9 C576.3 268.5 570 267.8 563.7 267.3 C557.4 266.7 551.1 266 544.8 265.4 C538.6 264.7 530.3 263.8 526 263.5 C521.7 263.2 522.3 263.9 519.1 263.5 C515.8 263.1 510.3 261.9 506.5 261 C502.7 260 499 259.2 496.5 257.8 C493.9 256.5 491.4 252.8 491.4 252.8 Z"/>
<path fill="#ff9900" d="M283 229.9 C284.4 229.1 289.3 229.8 291.7 229.9 C294 230.1 294.9 230.2 297.3 230.8 C299.7 231.5 306.1 234 306.1 234 C306.1 234 301 234.4 298.6 234.6 C296.2 234.8 294.2 234.9 291.7 235 C289.1 235 284.4 235.8 283 235 C281.6 234.2 281.6 230.7 283 229.9 Z"/>
<path fill="#ff9900" d="M341.3 241.3 C341.3 241.3 347.6 240.6 351.3 240.9 C355.1 241.1 359.1 242.2 363.9 242.8 C368.7 243.3 374.4 243.9 380.2 244.3 C386.1 244.6 394.2 244.5 399.1 245 C403.9 245.5 406.6 246.5 409.1 247.2 C411.6 247.8 414.1 248.8 414.1 248.8 C414.1 248.8 410.2 250 406.6 250.3 C403 250.6 397.8 250.8 392.8 250.6 C387.8 250.3 381.7 249.7 376.5 249 C371.2 248.4 366 247.5 361.4 246.5 C356.8 245.6 352.2 244.3 348.8 243.4 C345.5 242.5 341.3 241.3 341.3 241.3 Z"/>
<path fill="#ff9900" d="M571.2 256.3 C571.2 256.3 575.4 254.2 578.8 253.4 C582.1 252.6 585.5 251.9 591.3 251.6 C597.2 251.2 607 251.5 613.9 251.6 C620.8 251.7 627.4 252 632.8 252.2 C638.1 252.4 642.1 252.5 646 252.8 C649.9 253.1 652.9 253.4 656.1 254.1 C659.2 254.7 662.9 255.6 664.8 256.6 C666.8 257.5 668.6 258.7 668 259.7 C667.4 260.8 663.7 262.1 661.1 262.9 C658.5 263.6 654.8 263.8 652.3 264.1 C649.8 264.4 650.3 264.5 646 264.7 C641.7 265 632.9 265.3 626.5 265.4 C620.1 265.4 613.5 265.4 607.7 265.1 C601.8 264.8 596.1 264.3 591.3 263.5 C586.5 262.7 582.1 261.5 578.8 260.4 C575.4 259.2 571.2 256.3 571.2 256.3 Z"/>
<path fill="#ff9900" d="M623.4 237.7 C623.4 237.7 626.6 235.2 630.3 234 C633.9 232.7 642.7 231.2 645.3 230.2 C648 229.2 641.7 228.7 646 228.1 C650.3 227.4 662.8 226.8 671.1 226.4 C679.5 226.1 685.8 226.1 696.3 226.1 C706.7 226.1 723.5 226.3 733.9 226.4 C744.4 226.6 752.6 226.9 759.1 227.1 C765.5 227.2 769 227.4 772.6 227.4 C776.3 227.4 779.6 226 781 227 C782.4 228 782.4 232.3 781 233.5 C779.6 234.7 775.2 233.8 772.6 234 C770 234.1 768.7 233.8 765.3 234.2 C762 234.6 757 235.6 752.8 236.2 C748.6 236.8 744.4 237.4 740.2 237.7 C736 238.1 731.8 238.4 727.7 238.4 C723.5 238.4 719.3 237.7 715.1 237.7 C710.9 237.7 707.8 238.1 702.5 238.4 C697.3 238.7 690 239.4 683.7 239.6 C677.4 239.9 671.1 239.9 664.8 240 C658.6 240.1 650.3 240.3 646 240.3 C641.7 240.3 642.8 240.4 639.1 240 C635.3 239.6 623.4 237.7 623.4 237.7 Z"/>
<path fill="#ff7800" d="M667.4 234 C667.4 234 671.3 230.9 676.2 230.2 C681 229.5 688.7 229.6 696.3 229.6 C703.8 229.5 715.7 229.7 721.4 229.9 C727 230.2 727.9 230.2 730.2 230.8 C732.5 231.5 735.2 234 735.2 234 C735.2 234 727.9 234.5 721.4 234.6 C714.9 234.7 705.3 234.7 696.3 234.6 C687.2 234.5 667.4 234 667.4 234 Z"/>
</g>
<g id="p2" class="c">
<rect x="291.7" y="77.9" width="480.9" height="234.7" fill="#18ffff"/>
<path fill="#99ffff" d="M283 70 C290.8 53.8 321.1 68.7 330 70 C338.9 71.3 336.3 77.8 336.3 77.8 C336.3 77.8 335.2 79.3 336.3 80.1 C337.3 80.8 340.4 81.1 342.5 82.6 C344.6 84 346.5 86.5 348.8 88.8 C351.1 91.1 353.4 93.9 356.4 96.4 C359.3 98.9 363.1 101.6 366.4 103.9 C369.8 106.2 373.1 108.3 376.5 110.2 C379.8 112.1 384.2 113.1 386.5 115.2 C388.8 117.3 389.7 119.8 390.3 122.8 C390.8 125.7 390.3 129.5 389.6 132.8 C389 136.2 387.7 139.5 386.5 142.9 C385.4 146.2 384 149.6 382.7 152.9 C381.5 156.3 379.6 160.5 379 163 C378.3 165.5 377.9 166.1 379 168 C380 169.9 382.9 172.2 385.2 174.3 C387.5 176.4 391 178.5 392.8 180.6 C394.6 182.6 395.6 184.5 395.9 186.8 C396.3 189.1 395.9 192.7 394.8 194.4 C393.6 196.1 391.2 196.3 389 196.9 C386.8 197.5 384.4 198.6 381.5 198.2 C378.5 197.7 374.8 195.7 371.4 194.4 C368.1 193.1 364.1 191.4 361.4 190.4 C358.7 189.3 358.2 188.8 355.1 188.1 C352 187.4 346.7 186.9 342.5 186.2 C338.3 185.5 333.1 184.8 330 183.7 C326.8 182.5 325.8 180.9 323.7 179.3 C321.6 177.7 320.5 175.7 317.4 174.3 C314.3 172.8 309.1 171.5 304.8 170.5 C300.6 169.5 295.3 168.5 291.7 168 C288 167.5 284.4 183.8 283 167.5 C281.6 151.2 275.2 86.2 283 70 Z"/>
<path fill="#18ffff" d="M283 104.5 C284.4 97.7 289.1 104.6 291.7 104.9 C294.2 105.2 295.3 105.1 298.6 106.4 C301.8 107.7 306.9 110.9 311.1 112.7 C315.3 114.5 319.5 116 323.7 117.1 C327.9 118.3 333.1 118.7 336.3 119.6 C339.4 120.6 341.1 121.4 342.5 122.8 C344 124.1 345 125.7 345 127.8 C345 129.9 344 133 342.5 135.3 C341.1 137.6 338.8 139.8 336.3 141.6 C333.7 143.4 330.6 145.4 327.5 146 C324.3 146.6 321.2 145.9 317.4 145.4 C313.6 144.9 308.4 143.1 304.8 142.9 C301.3 142.7 298.2 143.7 296.1 144.1 C293.9 144.5 293.8 145.1 291.7 145.4 C289.5 145.7 284.4 152.8 283 146 C281.6 139.2 281.6 111.3 283 104.5 Z"/>
<path fill="#99ffff" d="M283 194.7 C284.4 173.8 288 194.6 291.7 194.8 C295.3 194.9 300.6 195.4 304.8 195.7 C309.1 195.9 313.4 195.9 317.4 196 C321.4 196.2 328.7 196.5 328.7 196.5 C328.7 196.5 333.5 200.3 336.3 202.6 C339 204.8 341.9 208 345 210.1 C348.2 212.2 351.3 213.6 355.1 215.1 C358.9 216.7 363.5 218.1 367.7 219.5 C371.8 221 376 222.5 380.2 223.9 C384.4 225.4 388.6 227.3 392.8 228.3 C397 229.4 401.5 229.8 405.3 230.2 C409.2 230.6 412.8 231.1 416.1 230.5 C419.3 229.8 422.5 228.6 424.8 226.4 C427.1 224.3 428 220.4 429.9 217.6 C431.8 214.9 433.8 212.4 436.2 210.1 C438.5 207.8 441 206 443.7 203.8 C446.4 201.6 449.6 198.7 452.5 196.9 C455.4 195.1 458.1 193.4 461.3 193.1 C464.4 192.9 468.6 194.4 471.3 195.7 C474 196.9 476.1 198.5 477.6 200.7 C479.1 202.9 479.6 206.2 480.1 208.8 C480.6 211.5 479.7 213.7 480.7 216.4 C481.8 219.1 483.8 222.9 486.4 225.2 C489 227.5 493.3 229 496.5 230.2 C499.6 231.4 501.5 231.6 505.2 232.1 C509 232.6 513.9 232.8 519.1 233.3 C524.2 233.9 531.1 233.9 536.1 235.2 C541 236.6 544.4 239.7 548.6 241.5 C552.8 243.3 557 244.6 561.2 245.9 C565.4 247.2 570.6 247.9 573.7 249 C576.9 250.2 578.1 251.1 580 252.8 C581.9 254.5 583.2 257.2 585 259.1 C586.9 261 589.5 262.4 591.3 264.1 C593.1 265.8 595.3 267.5 595.7 269.1 C596.1 270.8 595.2 272.5 593.8 274.2 C592.5 275.8 589.7 277.5 587.6 279.2 C585.5 280.9 582.6 282.5 581.3 284.2 C579.9 285.9 579.2 287.8 579.4 289.2 C579.6 290.7 580.5 292 582.5 293 C584.5 294.1 587.8 295 591.3 295.5 C594.9 296.1 600.1 295.8 603.9 296.2 C607.7 296.5 611 296.6 613.9 297.4 C616.9 298.2 618.8 300 621.5 301.2 C624.2 302.3 626.9 303.5 630.3 304.3 C633.6 305.2 637.3 305.7 641.6 306.2 C645.9 306.7 651.4 307.1 656.1 307.5 C660.7 307.8 669.2 308.1 669.2 308.1 C669.2 308.1 664.8 312.5 664.8 312.5 C664.8 312.5 723.6 318.7 660 320 C596.4 321.3 345.8 340.9 283 320 C220.2 299.1 281.6 215.6 283 194.7 Z"/>
<path fill="#18ffff" d="M283 244 C284.4 231.3 290 245.5 291.7 244 C293.3 242.6 292.3 237.6 292.9 235.2 C293.5 232.8 294.3 231 295.4 229.6 C296.6 228.1 297.2 227.5 299.8 226.7 C302.4 225.8 307.1 225 311.1 224.5 C315.1 224.1 319.5 223.7 323.7 223.9 C327.9 224.1 332.5 224.8 336.3 225.8 C340 226.9 343.6 228.4 346.3 230.2 C349 232 351.2 234.4 352.6 236.5 C353.9 238.6 354.6 240.9 354.5 242.8 C354.4 244.6 353.7 246.3 352 247.8 C350.2 249.3 347 250.5 343.8 251.6 C340.5 252.6 336.5 253.6 332.5 254.3 C328.5 255.1 323.5 255.3 319.9 256 C316.4 256.6 313.4 257.2 311.1 258.5 C308.8 259.7 307.4 261.3 306.1 263.5 C304.8 265.7 303.6 269.3 303.6 271.7 C303.6 274.1 304.4 276 306.1 277.9 C307.8 279.9 310.7 281.9 313.6 283.6 C316.6 285.3 319.9 286.8 323.7 288 C327.5 289.1 332.1 290.1 336.3 290.5 C340.4 290.9 344.6 290.7 348.8 290.5 C353 290.3 357.2 289.9 361.4 289.2 C365.6 288.6 369.8 287.8 373.9 286.7 C378.1 285.7 382.9 284.1 386.5 283 C390.1 281.8 392.8 281.3 395.3 279.8 C397.8 278.4 399.7 276.6 401.6 274.2 C403.5 271.8 404.9 268.3 406.6 265.4 C408.3 262.4 410.1 258.9 411.6 256.6 C413.2 254.3 413.6 253.1 416.1 251.6 C418.5 250.1 423 248 426.1 247.5 C429.2 247.1 432 248.5 434.9 249 C437.8 249.6 440.5 251.8 443.7 250.9 C446.8 250.1 450.2 246.4 453.7 244 C457.3 241.6 461.3 238.3 465 236.5 C468.8 234.7 472.8 233.7 476.4 233.3 C479.9 233 483.5 233.4 486.4 234.6 C489.3 235.7 491.8 238.1 493.9 240.3 C496 242.4 498 245.3 499 247.8 C499.9 250.3 500.4 252.8 499.6 255.3 C498.8 257.8 495.7 260.8 493.9 262.9 C492.2 265 490.4 265.4 488.9 267.9 C487.4 270.4 487.2 274.8 485.1 277.9 C483.1 281.1 480.1 284 476.4 286.7 C472.6 289.5 466.9 292.4 462.5 294.3 C458.1 296.2 454.2 296.6 450 298 C445.8 299.5 441 301.3 437.4 303.1 C433.8 304.8 430.9 307.1 428.6 308.7 C426.3 310.3 423.6 312.5 423.6 312.5 C423.6 312.5 443.4 318.7 420 320 C396.6 321.3 305.8 332.7 283 320 C260.2 307.3 281.6 256.7 283 244 Z"/>
<path fill="#99ffff" d="M458.1 77.8 C458.1 77.8 463.1 79.7 463.2 80.7 C463.3 81.7 460.5 82.9 458.8 83.8 C457 84.8 454.4 85.3 452.5 86.3 C450.6 87.4 448.5 88.8 447.5 90.1 C446.4 91.4 446 92.2 446.2 93.9 C446.4 95.5 448 98.1 448.7 100.2 C449.4 102.2 451 104.3 450.6 106.4 C450.2 108.5 447.8 111 446.2 112.7 C444.6 114.4 442.9 115.2 441.2 116.5 C439.5 117.7 437.4 118.6 436.2 120.3 C434.9 121.9 434.4 124.2 433.6 126.5 C432.9 128.8 431.9 132.1 431.8 134.1 C431.6 136.1 431 137.4 433 138.5 C435 139.5 439.4 139.9 443.7 140.4 C448 140.8 456.7 139.9 458.8 141 C460.9 142 457.7 144.6 456.3 146.6 C454.8 148.6 451.9 150.6 450 152.9 C448.1 155.2 445.6 157.9 444.9 160.5 C444.3 163 444.7 165.9 446.2 168 C447.7 170.1 451 172 453.7 173 C456.5 174.1 459.6 173.6 462.5 174.3 C465.5 174.9 468.6 175.5 471.3 176.8 C474 178 476.1 180.1 478.9 181.8 C481.6 183.5 484.7 185.7 487.7 186.8 C490.6 188 493.3 188.5 496.5 188.7 C499.6 188.9 503.2 188.7 506.5 188.1 C509.9 187.5 513.4 186.2 516.6 184.9 C519.7 183.7 522.1 182 525.3 180.6 C528.6 179.1 531.8 176.5 536.1 176.2 C540.3 175.8 546.9 178.6 551.1 178.7 C555.3 178.8 558 177.9 561.2 176.8 C564.3 175.6 566.8 173 570 171.8 C573.1 170.5 577.7 169.2 580 169.2 C582.3 169.2 582.1 170.3 583.8 171.8 C585.5 173.2 587.6 177.4 590.1 178 C592.6 178.7 595.9 176.8 598.9 175.5 C601.8 174.3 605.4 172.2 607.7 170.5 C610 168.8 612.5 166.7 612.7 165.5 C612.9 164.2 610.8 163.8 608.9 163 C607 162.1 603.5 161.7 601.4 160.5 C599.3 159.2 597.2 157.9 596.4 155.4 C595.5 152.9 596.6 148.3 596.4 145.4 C596.1 142.4 594.5 140.4 595.1 137.8 C595.7 135.3 598 131.9 600.1 130.3 C602.2 128.7 605.4 128.6 607.7 128.4 C610 128.2 612.5 128.1 613.9 129 C615.4 130 616 132 616.5 134.1 C616.9 136.2 616 139.5 616.5 141.6 C616.9 143.7 616.9 145.7 619 146.6 C621.1 147.6 625.7 147.4 629 147.3 C632.4 147.2 635.3 146.5 639.1 146 C642.8 145.5 648.8 144.9 651.6 144.1 C654.5 143.4 654.5 142.4 656.1 141.6 C657.6 140.8 659 139.6 661.1 139.1 C663.2 138.6 665.9 138.3 668.6 138.5 C671.3 138.7 674.9 139.7 677.4 140.4 C679.9 141 681.8 142.4 683.7 142.2 C685.6 142 687 140.7 688.7 139.1 C690.4 137.5 692.1 135.1 693.7 132.8 C695.4 130.5 697.1 127.8 698.8 125.3 C700.4 122.8 703 120 703.8 117.7 C704.6 115.4 704.6 113.2 703.8 111.5 C703 109.7 701.5 108.3 698.8 107.1 C696 105.8 691.6 105 687.5 104.2 C683.3 103.3 678 102.3 673.6 102 C669.2 101.7 664.6 101.8 661.1 102.4 C657.5 103 654.8 104.4 652.3 105.8 C649.8 107.2 648.6 109.3 646 110.8 C643.4 112.4 640.2 114.1 636.6 115.2 C632.9 116.3 627.5 117.3 624 117.5 C620.4 117.7 617.3 117.5 615.2 116.5 C613.1 115.5 612.7 113.6 611.4 111.5 C610.2 109.4 608.7 106.6 607.7 103.9 C606.6 101.2 605.1 97.8 605.1 95.1 C605.1 92.4 606.4 89.7 607.7 87.6 C608.9 85.5 610.6 83.9 612.7 82.6 C614.8 81.2 617.3 80.2 620.2 79.4 C623.2 78.6 630.3 77.8 630.3 77.8 C630.3 77.8 658.7 71.3 630 70 C601.3 68.7 486.6 68.7 458 70 C429.4 71.3 458.1 77.8 458.1 77.8 Z"/>
<path fill="#18ffff" d="M472 114 C471.5 112.5 470.6 109.8 471.3 107.7 C472.1 105.6 474.3 103.3 476.4 101.4 C478.4 99.5 481 97.5 483.9 96.4 C486.8 95.2 490.6 94.8 493.9 94.5 C497.3 94.2 501.5 94.1 504 94.5 C506.5 94.9 507.5 95.6 509 97 C510.5 98.4 511.5 100.7 512.8 102.7 C514 104.7 515.1 106.6 516.6 108.9 C518 111.2 520.1 114 521.6 116.5 C523 119 524.6 121.9 525.3 124 C526.1 126.1 524.6 128 526 129 C527.4 130.1 530.8 129.9 533.5 130.3 C536.3 130.7 539 131.9 542.3 131.6 C545.7 131.2 550.1 129.7 553.6 128.4 C557.2 127.2 559.9 125.1 563.7 124 C567.5 123 572.1 122.5 576.3 122.1 C580.4 121.8 585.5 121.4 588.8 121.8 C592.2 122.1 594.9 123 596.4 124 C597.8 125 598.4 126.3 597.6 127.8 C596.8 129.3 593.8 131.1 591.3 132.8 C588.8 134.5 585.5 136.5 582.5 137.8 C579.6 139.2 576.9 140.2 573.7 141 C570.6 141.7 567 142.3 563.7 142.2 C560.3 142.1 556.8 141.3 553.6 140.4 C550.5 139.4 547.8 137.4 544.8 136.6 C541.9 135.7 539.2 135.3 536.1 135.3 C532.9 135.3 528.4 136.1 526 136.6 C523.6 137.1 523.8 137.6 521.6 138.5 C519.4 139.3 516.3 140.5 512.8 141.6 C509.2 142.8 504.4 144.5 500.2 145.4 C496 146.3 491.6 146.8 487.7 146.9 C483.7 147 479.5 146.7 476.4 146 C473.2 145.3 470.6 144.1 468.8 142.9 C467 141.6 465.9 139.9 465.7 138.5 C465.5 137 466.4 135.6 467.6 134.1 C468.7 132.5 471.3 130.9 472.6 129 C473.8 127.2 474.9 124.9 475.1 122.8 C475.3 120.7 474.4 117.9 473.8 116.5 C473.3 115 472.4 115.4 472 114 Z"/>
<path fill="#99ffff" d="M781 70 C779.6 66 776.3 76.4 772.6 77.8 C769 79.2 763.4 78.1 759.1 78.5 C754.7 79 749.5 79.7 746.5 80.7 C743.5 81.7 742 83.1 740.8 84.4 C739.7 85.8 739.3 87.3 739.6 88.8 C739.9 90.4 741 92.4 742.7 93.9 C744.5 95.3 747.5 96.6 750.3 97.6 C753 98.7 755.3 99.5 759.1 100.2 C762.8 100.8 769 101.2 772.6 101.4 C776.3 101.6 779.6 106.7 781 101.5 C782.4 96.3 782.4 74 781 70 Z"/>
<path fill="#99ffff" d="M781 147 C779.6 143.7 774.5 146.7 772.6 147.3 C770.8 147.8 770.4 148.8 769.7 150.4 C769.1 152 768.5 154.6 768.5 156.7 C768.5 158.8 769.1 161.3 769.7 163 C770.4 164.6 770.8 166.1 772.6 166.7 C774.5 167.4 779.6 170.3 781 167 C782.4 163.7 782.4 150.3 781 147 Z"/>
<path fill="#99ffff" d="M662.3 174.3 C662.3 174.3 660.4 173.2 658.6 172.4 C656.7 171.5 652.2 170.3 651 169.2 C649.9 168.2 653 166.4 651.6 166.1 C650.3 165.8 646 166.6 642.8 167.4 C639.7 168.1 635.9 169.5 632.8 170.5 C629.6 171.5 627.1 172.8 624 173.6 C620.8 174.5 616.6 174.4 613.9 175.5 C611.3 176.7 609.2 178.5 608.3 180.6 C607.3 182.6 610.3 186.5 608.3 188.1 C606.3 189.7 599.2 189.1 596.4 190 C593.5 190.9 593.2 192.3 591.3 193.8 C589.4 195.2 586.3 197.2 585 198.8 C583.8 200.4 584.4 202 583.8 203.2 C583.2 204.3 582.5 205.3 581.3 205.7 C580 206.1 577.8 205.1 576.3 205.7 C574.7 206.3 573 207.7 571.9 209.5 C570.7 211.3 569.6 214.2 569.3 216.4 C569.1 218.6 569.4 220.6 570.6 222.7 C571.7 224.8 574.7 227 576.3 228.9 C577.8 230.9 578.7 233.1 580 234.6 C581.4 236.1 583.2 237.6 584.4 237.7 C585.7 237.8 586.8 236.7 587.6 235.2 C588.3 233.8 588.2 231 588.8 228.9 C589.4 226.9 590.1 224.7 591.3 222.7 C592.6 220.7 594.7 218.7 596.4 217 C598 215.3 599.3 214.2 601.4 212.6 C603.5 211 606.4 209.5 608.9 207.6 C611.4 205.7 614.7 203.4 616.5 201.3 C618.2 199.2 618.8 197 619.6 195 C620.4 193 620.3 191 621.5 189.3 C622.6 187.7 624.2 186.1 626.5 184.9 C628.8 183.8 632.1 183.2 635.3 182.4 C638.5 181.7 642.9 180.8 646 180.6 C649 180.3 651.4 181.6 653.5 181.2 C655.6 180.8 657.1 179.2 658.6 178 C660 176.9 662.3 174.3 662.3 174.3 Z"/>
<path fill="#99ffff" d="M619.6 249 C619.8 247 621.8 244.8 624 242.8 C626.2 240.8 629.6 238.9 632.8 237.1 C635.9 235.3 639 233.6 642.8 232.1 C646.7 230.6 651.3 229.9 656.1 228.3 C660.8 226.7 666.5 224.3 671.1 222.7 C675.7 221 679.9 219.5 683.7 218.3 C687.5 217.1 693.7 215.5 693.7 215.5 C693.7 215.5 694.8 216.2 696.3 217.6 C697.7 219 700.2 221.6 702.5 223.9 C704.8 226.2 708.1 228.9 710.1 231.5 C712.1 234 713.6 236.9 714.5 239 C715.3 241.1 716 242.3 715.1 244 C714.2 245.7 711.5 247.2 708.8 249 C706.1 250.9 701.9 253.2 698.8 255.3 C695.6 257.4 692.9 259.6 690 261.6 C687 263.6 684.3 265.7 681.2 267.3 C678 268.8 674.9 270.1 671.1 271 C667.4 272 662.8 272.8 658.6 272.9 C654.4 273 649.7 272.5 646 271.7 C642.3 270.8 639.6 269.4 636.6 267.9 C633.5 266.4 630.1 265 627.8 262.9 C625.5 260.8 624.1 257.6 622.7 255.3 C621.4 253 619.4 251.1 619.6 249 Z"/>
<path fill="#99ffff" d="M781 195.6 C779.6 187.4 775.9 195.4 772.6 195.7 C769.4 195.9 765.3 195.9 761.6 196.9 C757.9 198 753.6 199.7 750.3 201.9 C746.9 204.1 743.8 207.1 741.5 210.1 C739.2 213.1 737.5 216.8 736.5 220.2 C735.4 223.5 734.8 227.5 735.2 230.2 C735.6 232.9 737.1 234.7 739 236.5 C740.8 238.3 743.6 239.5 746.5 240.9 C749.4 242.2 753.2 243.8 756.6 244.6 C759.9 245.5 763.9 245.9 766.6 245.9 C769.3 245.9 770.2 244.8 772.6 244.6 C775 244.4 779.6 252.9 781 244.7 C782.4 236.5 782.4 203.8 781 195.6 Z"/>
<path fill="#99ffff" d="M662.3 289.2 C662.5 288.2 664.2 287.2 666.1 286.7 C668 286.3 671.3 286.1 673.6 286.7 C675.9 287.4 678.2 288.8 679.9 290.5 C681.6 292.2 682.2 295.1 683.7 296.8 C685.2 298.5 686.6 299.6 688.7 300.6 C690.8 301.5 694.8 301.7 696.3 302.4 C697.7 303.2 697.5 304.9 697.5 304.9 C697.5 304.9 691.2 305.5 687.5 305.6 C683.7 305.6 674.9 305.3 674.9 305.3 C674.9 305.3 678 302.6 677.4 301.2 C676.8 299.8 673.2 298.1 671.1 296.8 C669 295.4 666.3 294.3 664.8 293 C663.4 291.8 662.1 290.3 662.3 289.2 Z"/>
<path fill="#00d2ff" d="M383.4 100.2 C383.4 98.5 383.9 96.4 386.5 95.1 C389.1 93.9 394.1 93.1 399.1 92.6 C404 92.1 412.2 91.3 416.1 92 C419.9 92.7 420.4 95 422.3 97 C424.2 99 426.6 100 427.4 103.9 C428.1 107.8 427.1 115.2 426.7 120.3 C426.3 125.3 426.2 130.6 424.8 134.1 C423.5 137.5 421.7 139 418.6 141 C415.4 143 409.2 145.5 406 146 C402.8 146.5 400.7 145.5 399.1 144.1 C397.4 142.8 396.3 140.4 395.9 137.8 C395.5 135.3 396.2 132 396.6 129 C396.9 126.1 398.4 123.2 397.8 120.3 C397.2 117.3 394.7 114 392.8 111.5 C390.9 108.9 388.1 107.1 386.5 105.2 C384.9 103.3 383.4 101.8 383.4 100.2 Z"/>
<path fill="#0000ff" d="M407.2 131.6 C407.4 130.7 408.6 129.3 409.7 128.8 C410.9 128.3 413.3 128.1 414.1 128.4 C415 128.8 415.1 130.1 414.8 130.9 C414.5 131.8 413.4 133 412.3 133.4 C411.1 133.9 408.5 133.8 407.9 133.8 C407.3 133.9 408.6 134.2 408.5 133.8 C408.4 133.4 407 132.4 407.2 131.6 Z"/>
<path fill="#00d2ff" d="M510.9 126.3 C510.9 127.8 510.4 129.5 509.5 130.8 C508.6 132.1 507.1 133.3 505.6 134.1 C504 134.8 502 135.3 500.2 135.3 C498.4 135.3 496.4 134.8 494.9 134.1 C493.3 133.3 491.8 132.1 491 130.8 C490.1 129.5 489.5 127.8 489.5 126.3 C489.5 124.8 490.1 123.1 491 121.8 C491.8 120.5 493.3 119.2 494.9 118.5 C496.4 117.7 498.4 117.3 500.2 117.3 C502 117.3 504 117.7 505.6 118.5 C507.1 119.2 508.6 120.5 509.5 121.8 C510.4 123.1 510.9 124.8 510.9 126.3 Z"/>
<path fill="#00d2ff" d="M411.7 190.6 C411.7 188.8 412 187.4 412.9 186.2 C413.9 185.1 415.3 184.3 417.3 183.7 C419.3 183.1 422.1 182.9 424.8 182.8 C427.6 182.8 431.2 182.9 433.6 183.4 C436 184 438.1 184.8 439.3 186.2 C440.5 187.6 441 190.6 440.9 191.9 C440.9 193.2 440.5 192.9 438.9 194 C437.3 195.2 433.7 197.5 431.1 198.8 C428.6 200.1 425.9 201.4 423.6 201.9 C421.3 202.5 419.1 202.8 417.3 201.9 C415.5 201.1 413.5 198.8 412.5 196.9 C411.6 195 411.6 192.4 411.7 190.6 Z"/>
<path fill="#00d2ff" d="M316.2 237.1 C315.9 235.9 318.2 234.7 319.9 234.2 C321.6 233.7 324.1 233.6 326.2 234 C328.3 234.3 331.3 235.5 332.5 236.5 C333.7 237.4 334.1 238.7 333.5 239.6 C332.9 240.5 330.8 241.4 328.7 241.8 C326.7 242.1 323.3 242.3 321.2 241.5 C319.1 240.7 316.4 238.3 316.2 237.1 Z"/>
<path fill="#00d2ff" d="M336.3 308.1 C336.3 308.1 339.4 305.4 342.5 304.3 C345.7 303.3 350.9 302.3 355.1 301.8 C359.3 301.3 363.7 301.2 367.7 301.2 C371.6 301.2 376.3 301.3 379 301.8 C381.6 302.3 383.4 304.3 383.4 304.3 C383.4 304.3 377.6 306.6 373.9 307.5 C370.3 308.3 366 308.9 361.4 309.3 C356.8 309.8 350.5 310.6 346.3 310.4 C342.1 310.1 336.3 308.1 336.3 308.1 Z"/>
<path fill="#00d2ff" d="M671.1 189.3 C671.3 188.1 672 186.9 673 186.2 C674.1 185.5 676.2 184.8 677.4 184.9 C678.7 185.1 679.9 186 680.5 186.8 C681.2 187.7 681.5 188.8 681.2 190 C680.9 191.1 679.6 192.7 678.7 193.7 C677.7 194.7 676.7 196 675.5 196 C674.4 196 672.5 194.9 671.8 193.7 C671 192.6 670.9 190.6 671.1 189.3 Z"/>
<path fill="#00d2ff" d="M718.2 271.7 C718.2 270.2 720.4 269.7 722.6 269.1 C724.8 268.6 728.8 268.3 731.4 268.5 C734 268.7 736.8 269.6 738.3 270.4 C739.9 271.2 741 272.4 740.8 273.5 C740.7 274.7 739.7 276.3 737.7 277.3 C735.7 278.3 731.4 279.3 728.9 279.4 C726.4 279.6 724.4 279.2 722.6 277.9 C720.9 276.6 718.2 273.1 718.2 271.7 Z"/>
<path fill="#66ff99" d="M348.8 144.1 C348.6 142.1 350.1 139.3 351.3 136.6 C352.6 133.9 354.7 130.5 356.4 127.8 C358 125.1 359.3 121.8 361.4 120.3 C363.5 118.7 366.2 118.5 368.9 118.4 C371.6 118.3 375.3 118.5 377.7 119.6 C380.1 120.8 382.2 123.1 383.4 125.3 C384.5 127.5 384.9 130.1 384.6 132.8 C384.3 135.5 382.8 139.1 381.5 141.6 C380.1 144.1 378.5 146.2 376.5 147.9 C374.4 149.6 371.6 151 368.9 151.7 C366.2 152.3 362.8 152.2 360.1 151.7 C357.4 151.1 354.5 149.8 352.6 148.5 C350.7 147.3 349 146.1 348.8 144.1 Z"/>
<path fill="#33f500" d="M359.5 138.5 C359.3 136.7 360.2 134.6 361.4 132.8 C362.5 131 364.5 128.8 366.4 127.8 C368.3 126.7 370.8 126.3 372.7 126.5 C374.6 126.7 376.8 127.8 377.7 129 C378.7 130.3 378.8 132.2 378.3 134.1 C377.9 136 376.8 138.7 375.2 140.4 C373.6 142 371 143.6 368.9 144.1 C366.8 144.6 364.2 144.4 362.6 143.5 C361.1 142.6 359.7 140.2 359.5 138.5 Z"/>
<path fill="#66ff99" d="M442.4 131.6 C442.2 130.4 443.5 128.4 444.9 127.2 C446.4 125.9 449.1 124.5 451.2 124 C453.3 123.5 455.8 123.6 457.5 124 C459.2 124.4 460.9 125.5 461.3 126.5 C461.7 127.6 461.3 129.3 460 130.3 C458.8 131.3 456 132.2 453.7 132.8 C451.4 133.4 448.1 134.3 446.2 134.1 C444.3 133.9 442.6 132.7 442.4 131.6 Z"/>
<path fill="#66ff99" d="M530.4 101.4 C530.2 99 530.9 96.4 532.3 94.5 C533.6 92.6 535.8 91.1 538.6 90.1 C541.3 89.1 545.1 88.4 548.6 88.2 C552.2 88 556.6 88 559.9 88.8 C563.3 89.7 566.3 91.4 568.7 93.2 C571.1 95.1 573.5 97.8 574.4 100.2 C575.2 102.5 574.7 105.3 573.7 107.1 C572.8 108.8 571 109.9 568.7 110.8 C566.4 111.8 563.3 112.1 559.9 112.7 C556.6 113.3 552 114 548.6 114.2 C545.3 114.4 542.3 114.8 539.8 114 C537.3 113.1 535.1 111 533.5 108.9 C532 106.9 530.6 103.8 530.4 101.4 Z"/>
<path fill="#66ff99" d="M624.6 134.7 C624.8 133.3 626 131.7 627.8 130.3 C629.5 128.9 632.6 127.8 635.3 126.5 C638 125.3 641.4 124 644.1 122.8 C646.8 121.5 650.1 119.7 651.6 119 C653.2 118.3 651.8 119 653.5 118.4 C655.3 117.7 659.4 116 662.3 115.2 C665.3 114.5 668.4 113.9 671.1 113.7 C673.8 113.5 676.7 113.4 678.7 114 C680.7 114.5 682.3 115.9 683.1 117.1 C683.8 118.4 683.6 120 683.1 121.5 C682.5 123 681.5 124.6 679.9 125.9 C678.3 127.2 676.2 128.3 673.6 129 C671.1 129.8 667.8 130.3 664.8 130.3 C661.9 130.3 658.6 129 656.1 129 C653.5 129 651.8 129.6 649.8 130.3 C647.8 131 645.9 132.2 644.1 133.4 C642.3 134.7 640.9 136.7 639.1 137.8 C637.2 139 634.9 140.2 632.8 140.4 C630.7 140.5 627.9 139.4 626.5 138.5 C625.1 137.5 624.4 136.1 624.6 134.7 Z"/>
<path fill="#66ff99" d="M502.1 296.8 C501.9 295.2 503.7 293 505.2 290.5 C506.8 288 509.2 284.6 511.5 281.7 C513.8 278.8 516.6 275.2 519.1 272.9 C521.6 270.6 524.2 269.2 526.6 267.9 C529 266.6 530.9 265.5 533.5 265.1 C536.2 264.7 539.6 264.8 542.3 265.4 C545.1 265.9 547.7 267.2 549.9 268.5 C552.1 269.9 554.5 271.8 555.5 273.5 C556.6 275.3 556.9 277.3 556.2 279.2 C555.4 281.1 553.4 283.2 551.1 284.8 C548.8 286.5 545.3 288 542.3 289.2 C539.4 290.5 536.3 291.4 533.5 292.4 C530.8 293.3 529 293.9 526 294.9 C523 295.9 518.5 297.8 515.3 298.7 C512 299.5 508.7 300.2 506.5 299.9 C504.3 299.6 502.3 298.4 502.1 296.8 Z"/>
</g>
<g id="co" class="k">
<path d="M307.7 107.1 L309.7 103.5 L314.4 101.9 L323.1 99.5 L329.1 100.2 L337.1 101.1 L343.8 101.8 L350.5 102.7 L357.2 101.5 L361.2 100.9 L365.2 101.8 L370.5 101.7 L377.2 102.7 L379.9 103.7 L386.5 104.2 L391.9 103.4 L397.2 104.3 L401.2 103.3 L403.9 103.7 L404.6 100.6 L406.6 98.8 L408.6 100.6 L409.3 102.2 L411.9 103.1 L415.3 104.6 L417.3 102.9 L419.3 101.7 L422.6 101.5 L423.5 103 L422.2 104.6 L419.3 106.2 L416.6 106.7 L415.3 108.6 L411.3 109.7 L407.9 112 L405.9 114 L405.6 116.1 L408.3 118.4 L411.9 118.5 L415.3 119.7 L418.6 120.8 L421.9 121.1 L422.3 124 L424.2 125.9 L426.2 126.1 L426.9 124 L426.2 121.6 L429.3 119.7 L429.6 117.6 L427.6 116.2 L428.6 114.2 L428 111.6 L432 111.6 L436 112.6 L438.6 113.3 L439.3 116 L442 116.9 L444.7 114.9 L446 114.1 L448.7 116.9 L450.7 120 L454.7 121.6 L456 123.3 L457.6 125.1 L455.3 126.1 L452 127.6 L447.3 127.6 L443.3 127.7 L440.6 129.3 L438 131.6 L440 131 L442.6 129.3 L446 129.3 L445.3 131 L446 133 L449.3 133.6 L452 132.3 L450.7 134.3 L447.3 135.2 L444 136.7 L444 135 L446 133.9 L442.6 134.6 L440 135.9 L438 137.1 L437.7 138.8 L438.6 139.1 L436.6 139.5 L433.3 140.6 L432.9 142.1 L431.6 143.7 L430.6 145.4 L430.1 142.7 L430.2 145.4 L431 147.4 L429.3 148.6 L426.6 150.1 L423.7 152.8 L423.4 154.8 L425 158.8 L424.7 161.2 L423.5 160.4 L421.7 157.7 L421.3 155.8 L419.5 154.8 L417.3 154.4 L413.3 154.4 L412.6 155.8 L409.9 155.6 L406.6 155.3 L403.2 156.9 L402 159.4 L401.5 164.1 L402.3 167.5 L404 169.6 L406.2 170.6 L409.3 170 L411 168.8 L411.4 166.8 L414.6 166 L416.2 166.4 L415.1 168.8 L414.3 171.1 L413.5 173.6 L417.3 173.8 L420.3 174.6 L420.9 177.5 L420.2 180.2 L421.9 182.5 L423.9 183.1 L425.8 182.2 L428 182.5 L428.9 183.5 L429.6 184.2 M428.8 185.3 L427.4 183.8 L425.6 183.1 L424.7 185 L422.6 184.1 L420.5 183.4 L418.2 181.8 L417.5 180.2 L415.1 177.5 L412.6 176.8 L409.5 176 L406.6 173.4 L403.5 173.9 L399.2 172.6 L395.9 171 L392.8 169.3 L391.1 167.3 L391.4 165.2 L389.6 163.1 L387.2 161.1 L385.7 158.9 L383.2 157 L381.7 155 L380.4 152.9 L378.8 152.5 L379.1 154.8 L381.2 157.4 L382.8 160.1 L384.5 162.4 L385.7 164 L384.8 163.9 L382.5 161.9 L382.1 160 L379.5 158.5 L379.6 156.8 L377.6 154.5 L375.7 151.4 L373.9 149.4 L371 148.7 L369.3 145.9 L368.5 144.3 L366.8 142.1 L366.1 140.7 L366.1 137.4 L366.5 133.1 L365.6 130.2 L368.1 130.3 L368.5 131.6 L368 129.3 L365.2 127.6 L361.8 126 L360.5 124 L358.1 122 L356.1 120 L353.4 117.7 L349.8 116.4 L347.1 114.9 L343.1 114.6 L339.8 114.4 L336.5 113.3 L333.8 114.2 L331.8 113 L329.8 114.2 L329.4 115.7 L326.4 116.4 L323.1 118.4 L320.4 120 L317.1 120.9 L313.7 121.6 L312 122 L315.1 120.3 L317.7 120 L320.4 118.2 L322 116.4 L319.1 116.2 L315.7 115.3 L313.1 114.6 L311.3 112.6 L312.1 110.6 L315.1 110 L317.1 108.6 L314.4 108.5 L310.4 108.5 L307.7 107.1 M434.6 90.2 L440 88.8 L445.3 86.9 L452 85.2 L462.7 84.7 L473.4 83.6 L486.7 83.1 L497.4 83.9 L505.4 85.2 L502.8 86.5 L509.4 87.9 L505.4 90.2 L506.8 92.2 L503.4 94.6 L505.4 96.3 L500.8 97.9 L502.8 99.2 L498.8 100.6 L501.4 101.3 L496.1 103.1 L490.1 103.8 L486.1 105.9 L482.1 107 L478.7 107.9 L476.7 110.6 L474.7 113.7 L473.4 114.6 L470.7 113.6 L467.4 112.9 L464.7 110 L462.7 107.9 L460.7 105.5 L461.4 103.3 L464 101.7 L459.3 100.6 L462 99.2 L458 97.9 L456.7 95.5 L454 93.6 L448 93 L441.3 93.2 L438 91.9 L434.6 90.2 M428.9 183.5 L430.6 182.3 L431.3 180.6 L433 179.8 L435.3 179 L436.6 178.3 L436.5 180.2 L436.1 182.2 L437 180.5 L438.6 179.1 L438.9 178.6 L440.9 180.5 L444 180.7 L446 181.3 L448.7 180.6 L450 181.8 L452 183.5 L454 185.5 L456 186.9 L458.7 187 L461.4 187.5 L463.4 189 L464.4 191.8 L465.4 193.8 L464 195.2 L466 195.3 L468 195.8 L470.7 196.5 L472.7 198.4 L476 198.6 L479 198.8 L482.1 201.1 L485 202 L485.5 204.7 L485.1 207.2 L483.4 209.1 L482.1 211 L480.2 212.6 L480.1 215.6 L479.7 218.7 L478.7 221.4 L477.4 224.1 L476 225.7 L473.4 225.8 L470.3 227 L468 228.9 L467.1 231 L467 233.2 L465.4 235 L463.4 237.4 L461.8 239.4 L460.3 240.9 L458.7 241.6 L456 241.2 L454.1 240.4 L455.7 242.4 L456 244.1 L454.9 246 L452 246.9 L449.1 246.9 L448.9 249.1 L447.3 249.9 L445.3 249.7 L446 251.5 L447.2 252 L445.3 253.1 L444.5 255.1 L442 256.4 L442.1 257.5 L444.3 258.3 L443.3 259.8 L441.3 261.5 L439.7 263 L440.8 264.9 L438.6 265.3 L437 266.7 L435.3 266.1 L433.6 265.1 L432 263.1 L431.2 260 L432.6 258.7 L431.2 257.2 L433.6 256.2 L434.6 253.5 L434.9 250.8 L433.6 250.4 L433.7 247.7 L434.4 244.8 L435.2 242.7 L436.5 239.7 L436.6 236.4 L436.8 233.7 L437.8 229.7 L438.1 226.3 L438.5 223 L438.2 219.5 L436.6 218 L434 216.7 L431.7 215.4 L430.1 213.4 L428.9 211.2 L427.6 208.3 L426.2 205.6 L425.3 204 L423.7 202.9 L423.5 200.9 L424.9 199.4 L425.3 198.2 L424.1 197.8 L424.5 196 L425.3 194.8 L425.3 193.7 L426.8 193 L427.2 191.4 L428.6 191.2 L429.2 189.7 L428.6 187.5 L428.8 185.3 M440.5 265.3 L441 266.2 L443.3 267.7 L445.1 268.1 L442.9 268.6 L440 269 L438 268.5 L436 267.4 L437.3 267 L438.2 265.7 L440.5 265.3 M524.3 147 L526.3 147.8 L529.2 147.9 L532.1 146.9 L533.9 146.1 L536.2 145.5 L539.2 145.8 L542.2 145.4 L545.2 145 L546.8 145.4 L545.8 146.5 L546.4 148.5 L545.5 149.4 L547.1 150.5 L548.8 150.9 L552.5 151.6 L554.2 153.2 L556.2 154.1 L558.6 154 L559 152.1 L560.9 150.9 L563.1 151.3 L565.5 152.4 L568.9 153.2 L571.6 153.6 L573.6 152.8 L575.3 153.2 L575.6 154.8 L575.8 156.4 L577 158 L578.2 160.4 L579.7 162.8 L579.7 164.1 L581.4 165.5 L581.8 167.1 L582 169.5 L583.6 170.8 L584.6 173.8 L586.7 175.2 L588.8 177.5 L589.9 178.3 L590 179.4 L591.6 180.9 L594.3 180.5 L597.3 179.8 L600.5 179 L600.3 181 L599.2 183.5 L597.6 186.2 L596 188.9 L593.6 191.6 L590.9 193.4 L588.3 196.1 L586.8 198.2 L585.6 199.8 L584.5 201.3 L584 203.6 L584.9 205.6 L584.9 208 L586.3 209.3 L586.4 212.3 L586.5 215 L584.9 217 L582.2 218.3 L580.9 220.1 L578.9 221.4 L578.5 223 L579.6 224.6 L579.4 227 L576.9 228.7 L575.8 229.7 L576 232.4 L574.2 234.4 L572.6 236.6 L570.2 238.6 L568.2 239.8 L566.2 240.4 L563.5 240.4 L560.9 240.9 L558.9 241.5 L557.3 240.8 L556.6 239.7 L556.5 237.7 L555.5 235.7 L554.2 233.3 L552.6 231 L551.9 228.3 L551.4 225.4 L550.1 222.7 L548.6 219.9 L547.9 217.6 L548.2 215.6 L549.5 212.3 L550.5 209.6 L549.8 206.9 L548.7 203.2 L548.2 201.6 L546.8 200 L545.1 198.2 L544.2 196 L544.7 194.2 L545 191.8 L545.2 190.2 L543.9 188.9 L541.5 189 L539.9 189 L538.8 187.1 L537.9 186.5 L535.5 186.5 L533.5 187 L530.8 187.9 L529.2 188.5 L527.5 187.9 L525.1 188.1 L522.1 189 L520.1 188.2 L518.1 186.5 L516.8 185.7 L515.1 184.3 L514.4 182.9 L513.2 181.4 L511.7 180.2 L509.8 178.4 L509.7 176.8 L508.9 175.2 L510.1 173.2 L510.4 170.8 L510.5 169.2 L510.1 167.3 L509.3 166.9 L509.8 165.1 L510.8 163.2 L512.1 161.7 L512.8 159.9 L514.5 157.8 L516.8 157 L518.5 155.7 L519.3 154.1 L519.1 152.8 L520.5 150.5 L522.4 149.4 L523.7 148.1 L524.3 147 M575.3 153.2 L576.9 153.3 L578 152.9 L578.8 151.4 L579.6 149.5 L580.1 147.4 L580.4 145.8 L578.5 145.8 L576.2 146.6 L573.6 145.7 L571.8 146.5 L569.6 145.7 L568.6 145.1 L568.2 143.7 L567.3 142.3 L567.3 141.4 L568.9 140.9 L570.9 140.6 L571 139.8 L569.6 139.1 L569.4 137.8 L570.4 136.4 L570.6 135 L571.8 134.3 L572.9 133.2 L574.6 132.4 L576.6 133.2 L575.7 134.2 L577 135.4 L579.2 134.8 L580.9 134.3 L578.9 133.4 L581.3 132.3 L583.3 131.8 L584.5 132 L582.5 132.8 L583.2 133.6 L581.6 134.4 L583.6 135.6 L585.6 136.8 L587.6 137.9 L587.7 139.4 L584.9 140.1 L582.2 139.9 L579.6 139.1 L576.9 138.7 L574.2 139.8 L571 139.8 M567.3 141.4 L566.9 140.6 L564.5 140.2 L563.8 141.1 L562.6 140.7 L562.5 142.2 L563.5 143.7 L564.2 144.5 L562.9 144.7 L563 146.1 L562.1 145.9 L561.1 145.7 L560.5 144.5 L560.6 143.5 L559.1 142.1 L558.1 141 L558.2 139.2 L556.9 138 L554.2 136.8 L552.5 135.6 L551.3 134.4 L550.3 133.8 L548.6 134.3 L548.7 135.6 L550.3 136.7 L551.1 138.2 L553.5 138.8 L553.8 139.5 L556.7 141.1 L554.9 140.7 L554.3 141.8 L555 142.7 L553.7 144.2 L553.1 143.8 L553.5 142.1 L552.6 141.3 L551.1 140.3 L549.2 139.6 L547.8 138.4 L546.2 137.5 L545.8 136.2 L543.9 135.5 L542.2 136.3 L540.4 137.2 L538.6 136.8 L536.4 137.2 L536.4 138.7 L534.2 139.8 L532.6 141.1 L531.7 142.2 L532.4 143 L531.2 144.5 L529.5 145.7 L526.3 145.8 L524.9 146.6 L523.7 145.8 L522.3 145.1 L520.4 145.4 L520.4 143.5 L519.5 143 L520.4 140.7 L520.4 138.7 L519.7 137.4 L521.5 136.4 L524.4 136.6 L527.5 136.8 L529.7 136.8 L530.5 135.4 L530.5 133.4 L529.1 131.8 L526.1 130.8 L525.9 130 L528.1 129.6 L530 129.8 L529.9 128.4 L531.9 128.9 L533.8 128 L534.4 126.7 L536.6 126.1 L537.8 125.1 L538.6 124 L540.2 123.5 L541.8 123.2 L543.6 123.2 L543.8 122.3 L543.2 120.7 L543 119.2 L543.6 118.5 L545.5 117.8 L546.3 117.7 L545.9 119.2 L546.6 119.6 L545.5 120.7 L545 121.5 L546.6 122.3 L548.2 122.4 L550.2 122.1 L551.3 122.8 L553.9 122.3 L556.7 121.6 L558.3 122.1 L560.2 121.1 L560.2 118.9 L561.1 117.8 L563.1 118.6 L564.6 118.2 L564.7 116.9 L563.5 116.2 L563.8 115.6 L566.6 115.2 L569.6 115.3 L572 114.8 L570.2 113.8 L567.5 114.1 L564.9 114.6 L562.7 114.8 L561.9 114.1 L560.6 113.3 L560.9 111.3 L562.2 109.8 L564.9 108.2 L565.9 107.5 L564.5 106.9 L561.9 107 L560.9 108.5 L559.5 109.5 L557.1 110.6 L555.5 111.7 L555.1 113.6 L557 114.5 L556.5 115.6 L554.6 116.4 L554.3 118.2 L553.5 119.7 L551.5 119.9 L551.1 120.8 L549.5 120.8 L549 119.7 L547.9 117.7 L547.1 116.1 L546.3 115.2 L544.8 116.1 L542.8 117.2 L540.8 117.2 L539.6 116.1 L538.8 114.2 L538.8 112.4 L540.6 111.3 L543.2 110 L545.5 109.3 L547.2 108.1 L548.8 106.7 L549.9 105.3 L551.8 104.2 L553.5 103.1 L555.9 102.1 L558.2 101.4 L561.3 101 L563.9 100.2 L566.6 99.8 L569.3 99.9 L572.2 100.5 L573.6 101.4 L576.2 102.1 L579.6 102.3 L582.9 103.1 L586.3 104.2 L587.2 105.5 L585.6 106.3 L582.9 106.5 L579.6 105.8 L576.5 105.5 L577.6 106.5 L578.6 108.3 L580.9 109.4 L582.9 108.9 L585.6 108.5 L585.6 107.3 L588.3 106.1 L590.9 106.5 L591.3 104.9 L590.5 103.3 L593.6 103.7 L594.3 105.3 L596.3 104.3 L599.6 103.7 L603.6 103.5 L605 103.7 L608.3 103.1 L611.6 102.9 L613.6 101.7 L617.6 102.2 L621 102.7 L623.7 103.5 L624.6 102.6 L621.7 101.7 L621.7 99.9 L623.7 97.8 L625.7 97.1 L629 97.6 L629.7 99.2 L629 101.3 L630.3 103.3 L627.7 105.8 L630.3 105.5 L632.3 103.9 L631 102.2 L631.7 99.5 L633 98.2 L635.7 98.3 L639 98.3 L640.4 96.4 L644.4 96.2 L648.4 94.8 L649 94.2 L653.7 93.6 L659.1 93.1 L665.7 92.6 L671.1 91 L675.1 91.9 L680.4 92.3 L683.8 93.2 L683.1 95.5 L679.1 96 L683.1 96.3 L687.1 96.4 L691.1 97.1 L697.1 96.6 L701.1 97.5 L705.1 99.9 L707.8 100.2 L711.2 99.2 L715.8 99.4 L718.9 98.2 L724.5 97.8 L731.9 98.3 L735.2 99.9 L740.5 99.9 L745.2 101.3 L747.2 102.2 L751.2 101.7 L756.6 101.4 L759.9 102.3 L760.6 101.1 L767.3 101.7 L772.6 102.7 M291.7 102.7 L295 103.5 L299 104.9 L303.1 105.5 L305.3 106.5 L303.1 107.4 L301.7 108.6 L298.4 108.3 L296.4 107.3 L293.4 106.5 L291.7 107.7 M772.6 107.7 L770.7 108.5 L769.1 108.3 L771.3 110.5 L771.7 111.4 L767.9 111.6 L764.6 112.2 L761.9 113.4 L759.6 114.8 L756.6 114.1 L753.9 114.8 L752.3 114.8 L750.3 116.6 L749.1 117.7 L750.2 119.6 L748.6 121.6 L745.9 123.7 L743.9 124.9 L741.6 126.7 L740.5 124.7 L740 121.3 L740.5 118.6 L742.5 117.6 L744.5 116.2 L748.3 114.2 L750.7 112.5 L751.2 111.3 L747.9 112.6 L745.6 112.4 L742.1 112.4 L738.9 114.9 L735.9 116 L732.5 115.2 L728.5 115.6 L723.2 115.6 L719.8 117.6 L716.5 119.6 L713.2 121.6 L715.8 122.9 L718.2 122.5 L720.2 123.9 L720.9 125.3 L719.8 127.3 L719.7 129.6 L717.2 132.6 L714.5 135.1 L711.8 137 L709.1 137.2 L706.9 138 L705.5 139.6 L703.1 141.4 L702.5 142.3 L704.7 144.5 L705 147 L703.8 148.2 L701.1 148.9 L701 147 L701.5 145.4 L699.7 144.5 L699.1 143.3 L699.5 141.9 L698.1 141.5 L695.4 142.5 L694.3 142.7 L695.1 140.9 L693.8 140.2 L691.8 141.8 L689.5 142.7 L690.4 144.1 L691.4 145.1 L693.5 144.3 L695.8 145 L693.8 146.1 L691.5 147.9 L692.9 149.4 L693.7 151.3 L695 153.2 L694.9 154.8 L694.6 156.8 L693.1 158.5 L691.8 160.7 L689.8 162.1 L688 163.9 L685.1 164.8 L683.1 165.5 L680.4 166.3 L679.1 167.7 L678.6 166.1 L676.8 166 L674.8 167.2 L673.5 169.5 L674.5 171.5 L676.4 173.4 L677.8 176.2 L678.2 178.8 L676.4 180.5 L674.8 181.1 L673.1 182.9 L672.3 183.3 L672.4 181.5 L670.8 180.9 L669.1 178.8 L667.1 177.8 L666.4 177 L665.7 178.2 L665.1 180.2 L664.7 182.2 L666 183.8 L667.1 185.8 L668.8 186.7 L670.3 188.7 L670.3 191.2 L671.2 193 L670.1 193 L667.7 191.4 L666.5 189.5 L666.1 187.1 L665.2 185.8 L663.6 183.9 L663.9 181.5 L664 178.8 L663.1 176.2 L662.5 173.1 L661.5 172.3 L659.6 173.8 L658.1 173.5 L658.4 171.1 L657.5 169.1 L655.7 167.2 L654.8 165.1 L653 164.7 L651 165.6 L648.4 166.1 L648.1 167.6 L646.1 168.8 L643.7 171 L642.1 172.7 L640.1 173.8 L639.2 174.8 L639.4 177.1 L638.9 179.1 L638.7 181.1 L637.7 182.5 L636.6 183.1 L635.7 184.1 L634.3 182.9 L633.4 179.5 L632.1 177.5 L631.4 175.1 L630.3 172.8 L629.5 169.5 L629.4 167.1 L629 165.9 L628.3 166.8 L626.7 167.1 L624.6 165.2 L626.1 164.3 L623.7 163.7 L622.3 162.8 L621.3 161.2 L618.3 161.1 L614.4 161.2 L611 160.9 L608.7 160.4 L608 158.8 L606.3 159.2 L605 159.3 L602.9 158.8 L601.1 157.6 L599.7 155.7 L598.4 154.6 L597.1 154.8 L596.3 155.6 L597.3 157.8 L598.9 159.2 L599.2 160.4 L600.3 160.1 L601.1 161.1 L600.7 162.1 L602.3 162.5 L604.6 162.5 L606.3 160.8 L607.4 159.9 L607.5 161.7 L609 163.1 L610.7 163.3 L612 164.9 L610.6 167.3 L609.4 169.5 L607.6 170.8 L605.6 172 L602.3 173.2 L598.9 175 L596.3 176.2 L592.9 177.5 L590.5 177.9 L589.9 177.1 L589.3 175.1 L589.1 173 L587.6 170.8 L586.3 168.5 L584.6 166.8 L584 164.3 L582.2 162.4 L581 160.3 L579.3 157.4 L578.8 155.6 L578.1 157.2 L577.8 157.7 L576.9 156.8 L575.7 154.8 M594.9 134.3 L596.9 133.1 L598.9 132.4 L600.9 132 L602.9 132.4 L603.2 134 L600.9 134.3 L600.3 135.4 L599.3 135.6 L600.3 137.1 L602.1 138 L602.7 139.6 L604 140.3 L602.9 141.7 L603.6 143.4 L604.3 145.1 L602.3 145.7 L599.6 145.1 L597.6 144.6 L597.5 143 L598.1 141.4 L598.8 140.6 L596.9 138.7 L595.6 137.4 L594.7 135.5 L594.9 134.3 M610.3 134 L612.3 132.7 L614.3 133.1 L613.6 135 L611.6 136.3 L610 135.4 L610.3 134 M524.7 127.9 L526.8 127.6 L528.1 127.1 L530.1 127.1 L532.8 126.9 L534 126.4 L533.2 125.9 L534.4 124.5 L532.6 124 L532.4 123.2 L531.7 122.3 L530.3 121.3 L529.5 120.1 L527.9 119.9 L529.1 118.9 L529.6 117.8 L526.8 117.8 L527.9 116.5 L525.5 116.5 L524.4 118 L524.7 119.6 L525.1 120.7 L525.7 121.6 L527.9 121.5 L528.1 123.2 L526.4 123.6 L526 124.3 L526.7 125.1 L525.2 125.6 L527.5 126.1 L526.4 126.5 L524.7 127.9 M523.9 125.1 L524 123.5 L524.7 121.9 L523.5 121.1 L521.5 121.1 L520.8 122 L518.8 122.4 L519.3 123.6 L519.7 124.5 L518.4 125.3 L519.3 126 L521.5 125.6 L523.9 125.1 M499.8 107.1 L502.1 106.1 L503.4 107.3 L505.4 106.6 L508.1 106.5 L510.5 105.9 L512.5 106.5 L514 107.7 L512.4 108.9 L509.4 109.7 L506.8 110.1 L504.1 109.5 L501.8 109.4 L502.8 108.6 L500.4 108.2 L502.5 107.7 L499.8 107.1 M546.8 88.9 L549.5 88 L553.5 88 L556.2 87.5 L561.5 87.3 L568.2 87.6 L564.2 88.8 L558.9 89.3 L560.9 90.3 L556.9 91.4 L554.2 92.4 L550.9 91.2 L550.2 90.3 L546.8 88.9 M600.9 99.1 L603.6 97.5 L606.3 95.6 L609 94.2 L613.6 93 L619 92.2 L624.1 92 L621.7 93.1 L615 94.2 L611 95.5 L608.3 97.2 L606.7 99 L609 100.2 L605.6 100.5 L602.9 99.9 L600.9 99.1 M594.9 87.5 L601.6 86.7 L609.6 86.1 L617.6 86.4 L613.6 87.5 L604.3 87.9 L594.9 87.5 M659.1 88.9 L664.4 87.5 L671.1 88.8 L672.4 90.2 L665.7 90.6 L660.4 89.2 L659.1 88.9 M715.2 93.5 L719.2 93 L725.8 93.9 L732.5 94.3 L727.2 94.8 L720.5 95 L716.5 94.6 L715.2 93.5 M770.7 99.4 L772.6 99.1 M291.7 99.1 L294.4 99.7 L291.7 100.1 M772.6 100.1 L770.7 99.4 M424.6 96.3 L429.3 97.5 L433.3 98.8 L437.3 99.9 L441.3 101 L442 102.6 L446.7 104.9 L450 105.7 L448.7 107.1 L446.7 107.8 L444.7 110.2 L445.7 111.3 L443.3 112.1 L440 111.2 L436.6 110.2 L433.3 108.9 L429.3 108.9 L428 107.9 L432.6 107.3 L434 105.5 L435.3 104.6 L432.6 103.5 L429.3 101.8 L426 101.5 L422.6 101.4 L418.6 101.3 L413.9 100.3 L412.6 99 L413.3 96.8 L417.3 96.2 L419.9 97.5 L424.6 96.3 M375.2 100.5 L381.2 100.9 L378.5 102.2 L385.2 103 L391.2 103.1 L395.9 102.3 L396.6 101 L392.6 99.9 L391.9 97.5 L387.9 97 L381.2 97.5 L375.2 97.4 L373.9 99.1 L375.2 100.5 M364.5 98.6 L367.8 96.6 L371.2 95.4 L377.2 96.6 L375.2 97.9 L371.9 99.2 L367.8 99.7 L364.5 98.6 M411.9 92.7 L418.6 92.8 L425.3 93 L428 91.6 L430.6 89.9 L433.3 88.4 L441.3 86.8 L448 85.5 L446.7 84.4 L436 83.9 L425.3 83.9 L415.9 84.8 L410.6 85.9 L414.6 87.5 L418.6 88.5 L414.6 90.2 L411.9 92.7 M402.6 93.2 L410.6 92.3 L405.2 91 L397.2 90.8 L393.2 92.6 L402.6 93.2 M367.8 93.2 L375.9 92.8 L377.9 91.2 L373.2 91.5 L367.8 93.2 M403.9 94.7 L409.3 95.1 L414.6 93.9 L422.6 93.5 L425.3 94.8 L417.3 95.4 L410.6 95.9 L403.9 94.7 M398.6 97.5 L403.2 96.2 L405.2 97.5 L402.6 99 L398.6 97.5 M415.9 110 L419.9 107.3 L423.3 109 L424.6 110 L420.6 111.4 L415.9 110 M452.8 131 L455.3 127.3 L457.7 126 L457.3 128.3 L460.7 128.9 L461.4 131.4 L460 132.3 L458 132 L455.3 131.2 L452.8 131 M360.8 126.9 L364.5 128 L367.2 130.2 L364.5 129.5 L360.8 126.9 M354.5 122.7 L356.2 124 L356.9 125.1 L355.2 123.6 L354.5 122.7 M325.5 117.8 L328.7 118.2 L327.1 118.6 L325.5 117.8 M303.1 110 L306.4 110.4 L304.4 109.7 L303.1 110 M409.3 132.3 L412.6 130.7 L415.9 129.8 L418.6 131 L419.1 132.7 L416.6 132.7 L414.6 132.2 L411.9 132.4 L409.3 132.3 M415.1 139.1 L414.9 136.7 L415.9 134.3 L417.9 133.4 L419.9 133.2 L422.6 133.4 L425.3 134.3 L425.3 135.2 L423.3 135.8 L423 137.1 L421.9 137.4 L420.6 136.3 L420.9 134.7 L419.3 133.8 L417.9 134.7 L416.9 136.3 L416.9 138.2 L415.9 139.1 L415.1 139.1 M420.7 139 L423.3 139.2 L426.6 137.8 L426 137.1 L428 137 L430.2 136.6 L429.8 135.8 L426.6 136.4 L425.6 137 L424.6 137.9 L421.9 138.6 L420.7 139 M399.9 123.3 L402.6 122.9 L403.2 126.7 L401.2 126.4 L399.9 123.3 M375.9 113.3 L380.5 111.6 L386.5 111 L382.5 112.8 L378.5 113.6 L375.9 113.3 M365.8 106.9 L370.5 105.3 L374.5 106.2 L371.9 107.9 L367.8 107.5 L365.8 106.9 M418.7 165.6 L421.3 164.1 L423.9 164 L426.6 164.8 L429.3 166 L431.3 167.2 L433 167.9 L429.3 168.3 L428.4 167.3 L427 166 L423.9 165.3 L421.9 164.8 L418.7 165.6 M432.6 170.3 L434.4 168.3 L436.6 168.3 L438.9 168.7 L440.8 170 L438.2 170.4 L436.5 171.1 L434.9 170.6 L432.6 170.3 M427.6 170.4 L430.2 170.7 L429 171.1 L427.6 170.4 M442.4 170.3 L444.4 170.4 L443.3 170.8 L442.4 170.3 M707 149.4 L708.5 147.9 L710.5 147.4 L713.2 147.3 L714.8 145.8 L715.6 144.9 L717.4 144.3 L719.2 142.1 L719.2 140.6 L720.9 139.6 L721.6 141.7 L720.5 143.8 L720.4 145.7 L720 147.1 L718.9 148.1 L717.4 148.5 L715.2 148.6 L714.5 149.1 L713.6 150.1 L712.6 148.7 L710.5 148.9 L708.7 149.5 L707 149.4 M719.2 139.4 L719.7 137.1 L721.3 135.2 L721.6 134.2 L723.8 135.4 L726.1 136 L726.5 137 L723.8 138.7 L721.2 138 L719.2 139.4 M705.8 150.1 L708.1 150 L708.2 151.4 L707.1 153 L706.1 153.2 L705.5 151.2 L705.8 150.1 M708.7 149.7 L711.8 149.1 L711.4 150.4 L709.8 150.8 L708.7 149.7 M721.8 122.3 L723.2 124 L723.6 126 L724.2 128.9 L722.9 131.4 L723.7 133.1 L721.8 133.4 L722 130.7 L721.7 127.3 L721.8 122.3 M693.8 161.2 L695 161.7 L693.7 165.5 L692.6 163.7 L693.8 161.2 M679.4 168 L680.4 168.5 L679.5 170.4 L677.4 169.7 L677.4 168.5 L679.4 168 M639 181.8 L640.8 183.5 L641.6 185.5 L640.4 186.7 L639.2 186.9 L638.6 184.5 L639 181.8 M693.3 170.2 L695.4 170.3 L695.5 172.8 L694.5 174.2 L695.1 176.2 L697.8 177.5 L697.4 177.9 L695.8 176.4 L693.8 176.6 L693.3 175.6 L692.5 173.8 L693 172.2 L693.3 170.2 M695.1 185.5 L696.2 183.9 L698.5 183.5 L699.8 181.8 L701 183.5 L701.1 185.5 L700.5 186.5 L699.8 187.1 L698.9 186.9 L697.8 185.1 L696.5 184.9 L695.1 185.5 M688.8 183.7 L691.8 180.6 L691.5 181.5 L689.5 183.5 L688.8 183.7 M697.4 180.9 L698.5 179.8 L699.8 179.9 L699.3 181.3 L697.8 181.3 L697.4 180.9 M677.8 192.4 L679.5 192.6 L680.8 191.6 L682.8 190.9 L684.4 188.9 L686.4 187.5 L688.2 185.5 L689.4 186.6 L691.1 187.8 L689.8 189 L689.4 190.9 L689.8 193.3 L689.1 195.8 L687.8 197.6 L687.5 200 L685.4 200.4 L683.4 199.2 L681.4 199.3 L679.4 198.8 L679.1 196.9 L678 195.6 L677.8 192.4 M659.5 187.4 L662.1 187.9 L664 189.8 L666.1 191.6 L667.7 192.6 L669.7 194.1 L670.8 196.2 L671.7 197.6 L673.7 198.8 L673.6 200.9 L673.5 202.7 L671.9 202.7 L669.7 201.3 L667.7 199.3 L666.4 197.3 L664.8 195.2 L664 192.9 L662.4 191.2 L660.4 189.1 L659.5 187.4 M672.7 203.9 L674.4 202.9 L676.8 203.7 L679.8 204 L680.4 203.5 L682.7 204.1 L684.8 205.2 L685.1 206.4 L682.7 206.1 L679.8 205.7 L677.1 205.3 L674.4 204.7 L672.7 203.9 M691.8 202.3 L691.8 199.6 L690.8 198.4 L692.2 194.5 L693.5 193.2 L696.5 193.7 L698.9 192.9 L699.4 193.6 L697.1 194.4 L694.2 194.2 L692.7 196 L694.5 196.1 L696.9 196 L695.1 197.3 L696.2 199.3 L696.7 200.9 L695.5 201.3 L694.5 200.3 L693.5 198.5 L692.9 199.6 L693 202.4 L691.8 202.3 M686.4 206 L688.4 206.1 L691.1 206.1 L693.8 206.3 L696.5 206 L692.5 206.8 L689.1 206.9 L686.4 206 M697.1 208.7 L699.1 207.2 L701.8 206.1 L699.8 207.7 L697.1 208.7 M702.5 192.5 L703.1 194.2 L703.8 195.6 L702.9 194.9 L702.5 192.5 M700.5 199.2 L702.5 199.3 L706.5 199.2 L703.8 199.7 L700.5 199.2 M707.1 196 L709.1 195.4 L711.2 196 L711.6 198.2 L713.2 199.3 L716.2 196.9 L718.5 197.8 L720.5 198.4 L723.8 199.6 L726.5 201.1 L727.8 202.5 L729.6 202.9 L728.8 204.3 L730.5 206.7 L733.2 208.7 L731.9 208.8 L729.5 208.3 L727.8 206.7 L725.4 205.2 L723.8 206 L722.5 207.2 L720.5 207.1 L718.5 205.7 L716.5 206 L717.4 204.5 L716.5 202.7 L714.5 201.3 L712.1 200.4 L710.1 200.3 L709.5 198.8 L711.2 197.8 L708.9 197.8 L707.1 196 M730.5 202.4 L733.2 202.3 L735.5 200.5 L734.5 202 L732.5 203.2 L730.5 202.4 M733.6 198.5 L735.9 199.6 L736.5 200.9 L735.2 199.3 L733.6 198.5 M683.9 224.3 L684.4 227 L683.8 229 L685.1 231.7 L685.8 235 L686.7 237.7 L685.8 240.8 L687.8 241.7 L690.4 241.6 L692.5 240.4 L695.1 240.4 L697.8 239.3 L700.5 238.1 L703.8 237.4 L707.4 237 L709.8 238 L711.8 239 L713.6 241.5 L714.6 240.1 L716.2 238.6 L716 240.7 L715.2 242 L716.9 241.1 L717.2 242.5 L718.5 243.1 L719.2 245.1 L721.2 246.3 L723.8 246.8 L725.6 245.7 L727.6 247.1 L729.9 245.6 L732.5 244.8 L733.2 242.4 L734.3 239.7 L735.9 237.7 L736.5 235.4 L737.2 232.8 L736.5 229 L735.2 227.3 L733.6 225.9 L731.9 224.3 L730.7 221.9 L728.5 220.7 L727.2 219.6 L726.9 217.4 L726.1 214.8 L724.5 214 L723.8 211.9 L722.9 209.9 L722.1 209.3 L721.6 211.6 L721.2 214.3 L720.9 216.7 L719.8 218.4 L717.8 217.4 L715.8 216 L713.6 215 L713.8 213 L714.9 211.2 L713.2 211 L710.5 210.4 L708.5 210 L707.1 211.4 L705.8 212.7 L705.1 214.7 L703.4 214.7 L701.8 213.6 L700.2 214.3 L698.5 216.3 L697.1 218 L695.5 218 L695.1 219.9 L693.1 221.4 L690.4 222.1 L687.8 222.6 L685.5 223.9 L683.9 224.3 M725.4 249.3 L727.8 249.9 L730.1 249.6 L730.1 251.4 L728.8 253.1 L727.2 253.1 L726.1 251.4 L725.4 249.3 M763 241.1 L765 242.4 L766.6 243.9 L767.7 245.2 L770.2 245.2 L769.7 247.1 L768.6 247.7 L768.3 249.1 L766.5 250.6 L765.5 250.2 L766.2 248.4 L764.3 247.5 L765.4 246 L765.5 244.4 L763.9 242.4 L763 241.1 M762.8 249.1 L764.9 250.3 L763.2 252.4 L763 253.5 L761 254.2 L760.3 256.3 L758.2 257.2 L755.9 256.7 L754.6 256 L756.6 254.2 L758.8 253.1 L761 251.4 L762.2 249.5 L762.8 249.1 M598 211 L599.3 213.6 L599.5 216 L598.4 218.3 L597.3 221.7 L596.3 224.7 L595.2 228.1 L592.7 229 L590.9 228.3 L590.3 226.1 L590 224.1 L591.3 221.7 L591.2 219 L590.9 217.4 L592.7 216.3 L594.7 215.5 L596.3 213.6 L597.3 212 L598 211 M751.2 221.9 L753.9 223.7 L755.2 224.9 L753.2 223 L751.2 221.9 M323.8 169.5 L325.1 168.4 L324 167.7 L323.8 169.5 M769 218.3 L770.7 218.6 L769.9 219.2 L769 218.3 M740.5 204 L744.5 205.9 L747.9 208 L745.9 207.6 L742.5 205.6 L740.5 204 M574.6 195.6 L576.5 194.5 L577.8 195.3 L577.6 196.9 L576.2 198.4 L574.8 198 L574.6 195.6 M571.3 199.6 L572 201.6 L573.3 204.3 L573.6 206.4 L572.8 205.6 L571.6 202.9 L571.2 200.8 L571.3 199.6 M577.6 207.7 L578.6 210.3 L578.9 213 L579.2 214.2 L578.2 213.6 L578 211 L577.6 207.7 M671.1 126 L673.7 124.9 L677.1 122.9 L678.8 120.7 L677.8 120.9 L675.8 123.7 L673.1 125.5 L671.1 126 M631 133.1 L633.7 132.4 L637.7 132.7 L635 133.8 L631.7 134.3 L631 133.1 M572.5 114.6 L574.2 112.9 L576 113.2 L575.7 114.4 L573.8 114.8 L572.5 114.6 M548.7 144.1 L550.2 143.8 L552.9 143.8 L552.3 145.7 L550.6 145.3 L548.7 144.1 M543.1 140.1 L545 139.9 L545.1 142.3 L543.8 142.7 L543.2 141 L543.1 140.1 M543.8 137.9 L544.8 137.4 L544.8 139.4 L543.8 137.9 M563.5 147.4 L565.5 147.5 L567.3 147.8 L565.3 148.1 L563.5 147.7 L563.5 147.4 M575.3 148.1 L576.9 147.5 L578.2 147.3 L577.4 148.2 L576 148.6 L575.3 148.1 M450.7 263.8 L453.3 263.7 L454.9 263.9 L452.9 264.9 L450.7 264.3 L450.7 263.8 M481.4 267.1 L484.1 267.7 L483.4 268.2 L481.4 267.1 M624.1 260.5 L626.3 260.7 L625.4 261.4 L624.1 260.5 M291.7 307.7 L305.1 307.9 L318.4 308.3 L331.8 308.9 L334.4 305.3 L329.1 301.3 L322.4 299.2 L331.8 297.9 L337.1 295.9 L345.1 295.6 L351.8 294.6 L361.2 294.2 L371.9 293.9 L378.5 293.9 L385.2 295 L391.9 295.2 L397.2 293.2 L398.6 291.9 L403.9 292.6 L411.9 292.6 L418.6 292.8 L425.3 293 L430.6 293.4 L436 292.6 L440.6 291.2 L442.6 287.9 L442 285.9 L444 284.3 L446.7 282.5 L449.3 281.3 L453.3 280 L456 279.7 L454 280.9 L450.7 281.9 L449.3 283.2 L446 284.3 L445.3 285.9 L448 287.2 L450 289.9 L450.7 292.6 L451.3 294.6 L449.3 295.9 L444 297 L436 297.9 L428 299.2 L425.3 301.3 L430.6 302.6 L441.3 303.5 L452 305 L462.7 304.6 L472 303.7 L478.7 302.3 L484.1 300.3 L486.7 298.6 L492.1 297.2 L497.4 295.9 L502.8 293.9 L508.1 292.6 L513.4 291.6 L517.5 290.3 L521.5 289.9 L526.8 289.2 L532.1 288.1 L537.5 288.8 L542.8 288.5 L548.2 288.5 L553.5 288.3 L558.9 288.5 L564.2 289.2 L569.6 288.5 L574.9 287.9 L577.6 286.9 L581.6 287.9 L584.9 287.5 L588.3 286.1 L592.3 285.6 L596.3 284.9 L600.3 283.6 L604.3 283.1 L608.3 283.9 L612.3 284.9 L616.3 285.2 L621.7 285.6 L625.7 286.3 L627 287.9 L629.7 288.3 L633.7 287.6 L636.3 286.5 L640.4 285.6 L644.4 284.5 L648.4 284.1 L652.4 284.1 L656.4 283.9 L660.4 283.6 L664.4 284 L668.4 282.9 L672.4 283.7 L676.4 284.1 L680.4 283.2 L684.4 283.6 L688.4 284.4 L692.5 284.3 L696.5 283.9 L700.5 283.6 L704.5 284.3 L708.5 283.5 L712.5 283.2 L716.5 283.9 L720.5 284.1 L724.5 284.5 L727.2 285.5 L731.2 286.4 L735.2 286.7 L739.2 287.2 L743.2 287.6 L747.2 288.9 L751.2 289.3 L755.2 289.6 L759.9 290.6 L759.2 291.9 L756.6 293.2 L753.9 295 L750.6 295.9 L749.9 297.9 L752.6 299.2 L748.6 300.6 L745.9 302.6 L747.2 304.6 L753.9 305.9 L761.9 307 L772.6 307.7"/>
</g>
<g id="fr">
<rect x="291.7" y="312.2" width="480.9" height="2.6" fill="#dad6d6"/>
<path d="M305.1 74.5v-4.2M305.1 315.3v4.2M318.4 74.5v-4.2M318.4 315.3v4.2M345.1 74.5v-4.2M345.1 315.3v4.2M358.5 74.5v-4.2M358.5 315.3v4.2M385.2 74.5v-4.2M385.2 315.3v4.2M398.6 74.5v-4.2M398.6 315.3v4.2M425.3 74.5v-4.2M425.3 315.3v4.2M438.6 74.5v-4.2M438.6 315.3v4.2M465.4 74.5v-4.2M465.4 315.3v4.2M478.7 74.5v-4.2M478.7 315.3v4.2M505.4 74.5v-4.2M505.4 315.3v4.2M518.8 74.5v-4.2M518.8 315.3v4.2M545.5 74.5v-4.2M545.5 315.3v4.2M558.9 74.5v-4.2M558.9 315.3v4.2M585.6 74.5v-4.2M585.6 315.3v4.2M598.9 74.5v-4.2M598.9 315.3v4.2M625.7 74.5v-4.2M625.7 315.3v4.2M639 74.5v-4.2M639 315.3v4.2M665.7 74.5v-4.2M665.7 315.3v4.2M679.1 74.5v-4.2M679.1 315.3v4.2M705.8 74.5v-4.2M705.8 315.3v4.2M719.2 74.5v-4.2M719.2 315.3v4.2M745.9 74.5v-4.2M745.9 315.3v4.2M759.2 74.5v-4.2M759.2 315.3v4.2M291.7 87.9h-4.2M772.6 87.9h4.2M291.7 101.3h-4.2M772.6 101.3h4.2M291.7 128h-4.2M772.6 128h4.2M291.7 141.4h-4.2M772.6 141.4h4.2M291.7 168.1h-4.2M772.6 168.1h4.2M291.7 181.5h-4.2M772.6 181.5h4.2M291.7 208.3h-4.2M772.6 208.3h4.2M291.7 221.7h-4.2M772.6 221.7h4.2M291.7 248.4h-4.2M772.6 248.4h4.2M291.7 261.8h-4.2M772.6 261.8h4.2M291.7 288.5h-4.2M772.6 288.5h4.2M291.7 301.9h-4.2M772.6 301.9h4.2" stroke="#666" stroke-width=".75" fill="none"/>
<path d="M291.7 74.5v-8.2M291.7 315.3v8.2M331.8 74.5v-8.2M331.8 315.3v8.2M371.9 74.5v-8.2M371.9 315.3v8.2M411.9 74.5v-8.2M411.9 315.3v8.2M452 74.5v-8.2M452 315.3v8.2M492.1 74.5v-8.2M492.1 315.3v8.2M532.1 74.5v-8.2M532.1 315.3v8.2M572.2 74.5v-8.2M572.2 315.3v8.2M612.3 74.5v-8.2M612.3 315.3v8.2M652.4 74.5v-8.2M652.4 315.3v8.2M692.5 74.5v-8.2M692.5 315.3v8.2M732.5 74.5v-8.2M732.5 315.3v8.2M772.6 74.5v-8.2M772.6 315.3v8.2M291.7 74.5h-8.4M772.6 74.5h8.4M291.7 114.6h-8.4M772.6 114.6h8.4M291.7 154.8h-8.4M772.6 154.8h8.4M291.7 194.9h-8.4M772.6 194.9h8.4M291.7 235h-8.4M772.6 235h8.4M291.7 275.2h-8.4M772.6 275.2h8.4M291.7 315.3h-8.4M772.6 315.3h8.4" stroke="#000" stroke-width="1.2" fill="none"/>
<rect x="291.7" y="74.5" width="480.9" height="240.8" fill="none" stroke="#000" stroke-width="1.2"/>
<text class="t" transform="translate(291.7,339.2) scale(1,1.02)">180</text>
<text class="t" transform="translate(331.8,339.2) scale(1,1.02)">150W</text>
<text class="t" transform="translate(371.9,339.2) scale(1,1.02)">120W</text>
<text class="t" transform="translate(411.9,339.2) scale(1,1.02)">90W</text>
<text class="t" transform="translate(452,339.2) scale(1,1.02)">60W</text>
<text class="t" transform="translate(492.1,339.2) scale(1,1.02)">30W</text>
<text class="t" transform="translate(532.1,339.2) scale(1,1.02)">0</text>
<text class="t" transform="translate(572.2,339.2) scale(1,1.02)">30E</text>
<text class="t" transform="translate(612.3,339.2) scale(1,1.02)">60E</text>
<text class="t" transform="translate(652.4,339.2) scale(1,1.02)">90E</text>
<text class="t" transform="translate(692.5,339.2) scale(1,1.02)">120E</text>
<text class="t" transform="translate(732.5,339.2) scale(1,1.02)">150E</text>
<text class="t" transform="translate(772.6,339.2) scale(1,1.02)">180</text>
<text class="tl" transform="translate(275.5,78.6) scale(1,1.02)">90N</text>
<text class="tl" transform="translate(275.5,118.7) scale(1,1.02)">60N</text>
<text class="tl" transform="translate(275.5,158.9) scale(1,1.02)">30N</text>
<text class="tl" transform="translate(275.5,199) scale(1,1.02)">0</text>
<text class="tl" transform="translate(275.5,239.1) scale(1,1.02)">30S</text>
<text class="tl" transform="translate(275.5,279.3) scale(1,1.02)">60S</text>
<text class="tl" transform="translate(275.5,319.4) scale(1,1.02)">90S</text>
</g>
</defs>
<g transform="translate(0,0)">
<g clip-path="url(#cp)"><use href="#p1"/><use href="#co"/></g><g opacity=".998">
<text class="cl" x="330" y="138.4" transform="rotate(5 330 134.7)">10</text>
<text class="cl" x="358.9" y="192.4" transform="rotate(17 358.9 188.7)">0</text>
<text class="cl" x="499" y="140.3" transform="rotate(10 499 136.6)">10</text>
<text class="cl" x="521" y="159.7" transform="rotate(5 521 156)">0</text>
<text class="cl" x="574.4" y="130.9" transform="rotate(15 574.4 127.2)">10</text>
<text class="cl" x="603.3" y="195.6" transform="rotate(-8 603.3 191.9)">0</text>
<text class="cl" x="742.7" y="106.4" transform="rotate(15 742.7 102.7)">10</text>
<text class="cl" x="735.2" y="157.9" transform="rotate(-5 735.2 154.2)">0</text>
<text class="cl" x="317.4" y="245.8" transform="rotate(8 317.4 242.1)">30</text>
<text class="cl" x="309.2" y="286.7" transform="rotate(-3 309.2 283)">20</text>
<text class="cl" x="491.4" y="207" transform="rotate(15 491.4 203.3)">10</text>
<text class="cl" x="520.9" y="220.4" transform="rotate(5 520.9 216.7)">20</text>
<text class="cl" x="486.4" y="257.8" transform="rotate(40 486.4 254.1)">30</text>
<text class="cl" x="513.4" y="280.4" transform="rotate(5 513.4 276.7)">20</text>
<text class="cl" x="576.9" y="231.4" transform="rotate(8 576.9 227.7)">30</text>
<text class="cl" x="544.8" y="289.8" transform="rotate(-8 544.8 286.1)">10</text>
<text class="cl" x="754" y="222" transform="rotate(5 754 218.3)">20</text>
</g>
<use href="#fr"/>
<text class="s" transform="translate(291.9,61.8) scale(1,1.07)">Zonal Wind</text>
<text class="s" text-anchor="end" transform="translate(773,61.8) scale(1,1.07)">m/s</text>
</g>
<g transform="translate(0,293)">
<g clip-path="url(#cp)"><use href="#p2"/><use href="#co"/></g><g opacity=".998">
<text class="cl" x="317.3" y="179" transform="rotate(20 317.3 175.3)">0</text>
<text class="cl" x="483.9" y="99.8" transform="rotate(-25 483.9 96.1)">0</text>
<text class="cl" x="446.3" y="163.2" transform="rotate(-65 446.3 159.5)">0</text>
<text class="cl" x="505.8" y="236.2" transform="rotate(8 505.8 232.5)">0</text>
<text class="cl" x="397.1" y="282.2" transform="rotate(-35 397.1 278.5)">0</text>
<text class="cl" x="645.1" y="152.1" transform="rotate(5 645.1 148.4)">0</text>
</g>
<use href="#fr"/>
<text class="s" transform="translate(291.9,61.8) scale(1,1.07)">Meridional Wind</text>
<text class="s" text-anchor="end" transform="translate(773,61.8) scale(1,1.07)">m/s</text>
</g>
<g transform="translate(0,586)">
<rect x="291.7" y="77" width="480.9" height="1.5" fill="#99ffff"/>
<g clip-path="url(#cp)"><use href="#p1"/><use href="#co"/></g><g opacity=".998">
<text class="cl" x="317.3" y="181.9" transform="rotate(17 317.3 178.2)">0</text>
<text class="cl" x="480.1" y="139.3" transform="rotate(5 480.1 135.6)">10</text>
<text class="cl" x="477.6" y="204.5" transform="rotate(15 477.6 200.8)">10</text>
<text class="cl" x="516.5" y="220.2" transform="rotate(5 516.5 216.5)">20</text>
<text class="cl" x="347.4" y="257.1" transform="rotate(20 347.4 253.4)">30</text>
<text class="cl" x="506.4" y="280.4" transform="rotate(5 506.4 276.7)">20</text>
<text class="cl" x="543.5" y="290.4" transform="rotate(-8 543.5 286.7)">10</text>
<text class="cl" x="563.6" y="125.1" transform="rotate(20 563.6 121.4)">10</text>
<text class="cl" x="562.3" y="157.6" transform="rotate(3 562.3 153.9)">0</text>
<text class="cl" x="738.9" y="157.6" transform="rotate(-5 738.9 153.9)">0</text>
<text class="cl" x="547.3" y="208.5" transform="rotate(10 547.3 204.8)">0</text>
<text class="cl" x="569.8" y="230.8" transform="rotate(5 569.8 227.1)">30</text>
<text class="cl" x="618.7" y="272.9" transform="rotate(0 618.7 269.2)">30</text>
</g>
<use href="#fr"/>
<text class="s" transform="translate(291.9,61.8) scale(1,1.07)">Zonal Wind</text>
<text class="s" text-anchor="end" transform="translate(773,61.8) scale(1,1.07)">m/s</text>
</g>
<rect x="259.9" y="940.5" width="39.85" height="19" fill="#0000ff" stroke="#000" stroke-width=".6"/>
<rect x="299.8" y="940.5" width="39.85" height="19" fill="#00d2ff" stroke="#000" stroke-width=".6"/>
<rect x="339.6" y="940.5" width="39.85" height="19" fill="#18ffff" stroke="#000" stroke-width=".6"/>
<rect x="379.5" y="940.5" width="39.85" height="19" fill="#99ffff" stroke="#000" stroke-width=".6"/>
<rect x="419.4" y="940.5" width="39.85" height="19" fill="#66ff99" stroke="#000" stroke-width=".6"/>
<rect x="459.2" y="940.5" width="39.85" height="19" fill="#33f500" stroke="#000" stroke-width=".6"/>
<rect x="499.1" y="940.5" width="39.85" height="19" fill="#c8ff00" stroke="#000" stroke-width=".6"/>
<rect x="538.9" y="940.5" width="39.85" height="19" fill="#e1f00a" stroke="#000" stroke-width=".6"/>
<rect x="578.8" y="940.5" width="39.85" height="19" fill="#ffff00" stroke="#000" stroke-width=".6"/>
<rect x="618.6" y="940.5" width="39.85" height="19" fill="#ffe100" stroke="#000" stroke-width=".6"/>
<rect x="658.5" y="940.5" width="39.85" height="19" fill="#ff9900" stroke="#000" stroke-width=".6"/>
<rect x="698.3" y="940.5" width="39.85" height="19" fill="#ff7800" stroke="#000" stroke-width=".6"/>
<rect x="738.2" y="940.5" width="39.85" height="19" fill="#ff3200" stroke="#000" stroke-width=".6"/>
<text class="cb" x="299.5" y="978.6">-10</text>
<text class="cb" x="339.3" y="978.6">-5</text>
<text class="cb" x="379.5" y="978.6">0</text>
<text class="cb" x="419.4" y="978.6">5</text>
<text class="cb" x="459.2" y="978.6">10</text>
<text class="cb" x="499.1" y="978.6">15</text>
<text class="cb" x="538.9" y="978.6">20</text>
<text class="cb" x="578.8" y="978.6">25</text>
<text class="cb" x="618.6" y="978.6">30</text>
<text class="cb" x="658.5" y="978.6">35</text>
<text class="cb" x="698.3" y="978.6">40</text>
<text class="cb" x="738.2" y="978.6">45</text>
<text style="font-size:14.07px;white-space:pre" xml:space="preserve" transform="translate(7.2,1011.3) scale(1,1.05)">Created: Mon Mar  7 09:43:37 MST 2016</text>
<text style="font-size:14px;text-anchor:end" transform="translate(1030.4,1008.1) scale(1,1.05)">Adding a time stamp to a BBMaximized page</text>
</g></svg></body></html>
